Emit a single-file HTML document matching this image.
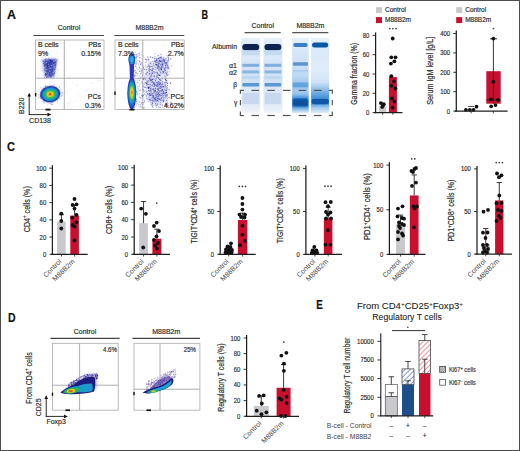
<!DOCTYPE html>
<html><head><meta charset="utf-8"><style>
html,body{margin:0;padding:0;background:#fff;overflow:hidden;width:520px;height:451px;}
svg{display:block;font-family:"Liberation Sans", sans-serif;}
text{stroke:#2a2a2a;stroke-width:0.18px;}
</style></head><body>
<svg width="520" height="451" viewBox="0 0 520 451">
<rect width="520" height="451" fill="#fff"/>
<rect x="0.5" y="0.5" width="519" height="450" fill="none" stroke="#4d4d4d" stroke-width="1"/>
<line x1="512.5" y1="1" x2="512.5" y2="450" stroke="#fbfbfb" stroke-width="1"/>
<text x="6.9" y="18.5" font-size="12" text-anchor="start" fill="#111" font-weight="bold" textLength="9" lengthAdjust="spacingAndGlyphs">A</text>
<text x="201.6" y="18.7" font-size="12" text-anchor="start" fill="#111" font-weight="bold" textLength="6.6" lengthAdjust="spacingAndGlyphs">B</text>
<text x="7.1" y="150.7" font-size="12" text-anchor="start" fill="#111" font-weight="bold" textLength="8" lengthAdjust="spacingAndGlyphs">C</text>
<text x="8" y="321.6" font-size="12" text-anchor="start" fill="#111" font-weight="bold" textLength="7.6" lengthAdjust="spacingAndGlyphs">D</text>
<text x="316.2" y="308.7" font-size="12" text-anchor="start" fill="#111" font-weight="bold" textLength="6.6" lengthAdjust="spacingAndGlyphs">E</text>
<text x="69" y="30.4" font-size="7" text-anchor="middle" fill="#333" font-weight="normal">Control</text>
<line x1="33.4" y1="35.5" x2="104" y2="35.5" stroke="#444" stroke-width="1.2"/>
<text x="149.5" y="30.4" font-size="7" text-anchor="middle" fill="#333" font-weight="normal">M88B2m</text>
<line x1="114.4" y1="35.5" x2="184.3" y2="35.5" stroke="#444" stroke-width="1.2"/>
<line x1="64.3" y1="40" x2="64.3" y2="109.5" stroke="#999" stroke-width="0.8"/>
<line x1="35.6" y1="78.2" x2="104" y2="78.2" stroke="#999" stroke-width="0.8"/>
<line x1="142.8" y1="40" x2="142.8" y2="109.5" stroke="#999" stroke-width="0.8"/>
<line x1="115" y1="78.2" x2="184.2" y2="78.2" stroke="#999" stroke-width="0.8"/>
<defs><filter id="fb" x="-50%" y="-50%" width="200%" height="200%"><feGaussianBlur stdDeviation="0.55"/></filter><filter id="fb2" x="-50%" y="-50%" width="200%" height="200%"><feGaussianBlur stdDeviation="0.9"/></filter><filter id="fb3" x="-50%" y="-50%" width="200%" height="200%"><feGaussianBlur stdDeviation="1.6"/></filter><clipPath id="cpA1"><rect x="35.6" y="40" width="68.4" height="69.5"/></clipPath><clipPath id="cpA2"><rect x="115" y="40" width="69.2" height="69.5"/></clipPath></defs><g clip-path="url(#cpA1)"><path d="M78.1 94.6h0M64.2 81.0h0M74.1 97.8h0M79.9 96.0h0M86.4 91.5h0M75.7 100.6h0" stroke="#9aa0d8" stroke-width="1.0" stroke-opacity="0.25" stroke-linecap="round" fill="none"/><path d="M67.4 93.3h0M78.6 92.7h0M98.5 80.6h0M96.0 99.2h0M99.7 102.9h0M75.3 93.5h0M82.8 88.0h0M76.2 84.9h0M70.9 89.0h0" stroke="#9aa0d8" stroke-width="0.9" stroke-opacity="0.25" stroke-linecap="round" fill="none"/><path d="M77.9 83.7h0M83.8 90.3h0M80.8 96.6h0M78.8 105.5h0M99.4 100.0h0M61.7 83.8h0M60.6 89.6h0M93.3 83.5h0M87.5 90.1h0M70.3 101.4h0M63.7 83.6h0M83.6 104.0h0M97.8 80.8h0M74.7 83.7h0M88.6 99.6h0M82.0 97.0h0" stroke="#9aa0d8" stroke-width="0.8" stroke-opacity="0.25" stroke-linecap="round" fill="none"/><path d="M84.9 101.6h0M82.5 82.8h0M98.3 102.0h0M91.1 87.0h0M93.2 90.0h0M76.5 86.5h0M72.8 106.0h0M75.2 80.3h0M77.6 101.8h0M74.0 103.3h0M91.9 105.6h0" stroke="#9aa0d8" stroke-width="0.6" stroke-opacity="0.25" stroke-linecap="round" fill="none"/><path d="M84.0 100.2h0M88.3 88.2h0M90.3 83.1h0M96.3 101.3h0M97.2 105.4h0M71.2 103.9h0M75.4 95.2h0M72.8 101.5h0M98.3 97.8h0M78.5 96.9h0" stroke="#9aa0d8" stroke-width="0.7" stroke-opacity="0.25" stroke-linecap="round" fill="none"/><path d="M86.2 90.6h0M92.9 82.9h0" stroke="#9aa0d8" stroke-width="0.8" stroke-opacity="0.5" stroke-linecap="round" fill="none"/><path d="M76.8 85.5h0M99.9 80.5h0" stroke="#9aa0d8" stroke-width="0.7" stroke-opacity="0.5" stroke-linecap="round" fill="none"/><path d="M72.4 82.3h0" stroke="#9aa0d8" stroke-width="0.6" stroke-opacity="0.5" stroke-linecap="round" fill="none"/><path d="M67.9 91.2h0M65.2 91.8h0" stroke="#9aa0d8" stroke-width="0.9" stroke-opacity="0.5" stroke-linecap="round" fill="none"/><path d="M68.5 103.4h0" stroke="#9aa0d8" stroke-width="1.0" stroke-opacity="0.5" stroke-linecap="round" fill="none"/><path d="M41.5 58.5 L58 58 L56 68 L54.5 78 L44.5 78 L42.5 68 Z" fill="#c4c8ee" filter="url(#fb3)" opacity="0.8"/><path d="M43.8 60.5 Q50 59.2 56.2 60.2 L54.6 67 L52.8 76.5 L46.2 76.5 L44.6 67 Z" fill="#5a64c4" filter="url(#fb2)" opacity="0.85"/><g filter="url(#fb2)" opacity="0.8"><ellipse cx="49.8" cy="62.5" rx="6" ry="2.8" fill="#2a32a4"/><path d="M47 64 L52.5 64 L51.5 76 L48.5 76 Z" fill="#3038a8"/></g><path d="M52.9 63.8h0M53.2 70.8h0M52.0 75.9h0M49.9 60.3h0" stroke="#1a2490" stroke-width="0.7" stroke-opacity="0.75" stroke-linecap="round" fill="none"/><path d="M50.4 67.2h0M55.0 59.0h0M54.6 72.9h0M48.5 62.3h0" stroke="#1a2490" stroke-width="1.2" stroke-opacity="0.75" stroke-linecap="round" fill="none"/><path d="M55.1 63.0h0" stroke="#8c94dc" stroke-width="1.0" stroke-opacity="0.25" stroke-linecap="round" fill="none"/><path d="M53.7 65.2h0M44.1 61.1h0" stroke="#8c94dc" stroke-width="0.8" stroke-opacity="0.5" stroke-linecap="round" fill="none"/><path d="M49.6 75.7h0M46.6 59.2h0M53.2 69.8h0M47.9 72.2h0" stroke="#5058b8" stroke-width="1.1" stroke-opacity="0.5" stroke-linecap="round" fill="none"/><path d="M51.9 69.7h0M56.8 59.9h0M50.9 63.5h0M50.6 72.5h0M47.8 60.4h0M49.2 76.3h0M46.7 72.2h0" stroke="#8c94dc" stroke-width="1.2" stroke-opacity="0.5" stroke-linecap="round" fill="none"/><path d="M53.0 64.4h0M56.2 65.2h0M54.0 68.4h0" stroke="#8c94dc" stroke-width="1.1" stroke-opacity="0.75" stroke-linecap="round" fill="none"/><path d="M52.2 63.7h0M54.9 62.9h0M46.1 67.5h0M55.2 66.4h0M46.5 59.9h0" stroke="#8c94dc" stroke-width="1.3" stroke-opacity="0.75" stroke-linecap="round" fill="none"/><path d="M48.6 68.2h0M46.1 75.1h0" stroke="#5058b8" stroke-width="0.8" stroke-opacity="0.25" stroke-linecap="round" fill="none"/><path d="M57.2 59.5h0M47.6 64.1h0M50.5 71.1h0M49.8 74.4h0" stroke="#8c94dc" stroke-width="1.0" stroke-opacity="0.5" stroke-linecap="round" fill="none"/><path d="M43.9 61.3h0" stroke="#5058b8" stroke-width="0.8" stroke-opacity="1.0" stroke-linecap="round" fill="none"/><path d="M55.7 66.7h0M45.6 63.8h0M48.7 77.3h0" stroke="#5058b8" stroke-width="1.3" stroke-opacity="0.5" stroke-linecap="round" fill="none"/><path d="M47.6 68.1h0M44.9 65.2h0" stroke="#5058b8" stroke-width="1.2" stroke-opacity="1.0" stroke-linecap="round" fill="none"/><path d="M44.8 68.7h0M47.6 60.3h0M47.6 75.8h0" stroke="#2a34a4" stroke-width="1.0" stroke-opacity="0.25" stroke-linecap="round" fill="none"/><path d="M54.1 61.4h0M49.7 73.3h0" stroke="#1e2a98" stroke-width="0.7" stroke-opacity="0.5" stroke-linecap="round" fill="none"/><path d="M53.4 60.9h0M45.6 75.4h0M50.1 76.4h0M45.3 62.6h0M47.8 69.3h0M50.7 77.2h0" stroke="#2a34a4" stroke-width="0.8" stroke-opacity="0.75" stroke-linecap="round" fill="none"/><path d="M51.8 72.3h0" stroke="#b0b6ea" stroke-width="1.2" stroke-opacity="0.25" stroke-linecap="round" fill="none"/><path d="M50.1 66.6h0M48.4 64.7h0M45.4 61.9h0" stroke="#b0b6ea" stroke-width="0.8" stroke-opacity="0.5" stroke-linecap="round" fill="none"/><path d="M46.1 68.9h0M52.7 67.4h0" stroke="#8c94dc" stroke-width="0.8" stroke-opacity="0.75" stroke-linecap="round" fill="none"/><path d="M46.6 74.9h0" stroke="#1e2a98" stroke-width="1.1" stroke-opacity="0.75" stroke-linecap="round" fill="none"/><path d="M47.3 64.8h0M54.2 65.3h0" stroke="#1e2a98" stroke-width="1.3" stroke-opacity="0.5" stroke-linecap="round" fill="none"/><path d="M48.9 66.2h0M55.4 59.9h0" stroke="#b0b6ea" stroke-width="1.3" stroke-opacity="0.75" stroke-linecap="round" fill="none"/><path d="M48.5 61.3h0" stroke="#1e2a98" stroke-width="1.1" stroke-opacity="0.25" stroke-linecap="round" fill="none"/><path d="M47.9 69.5h0M55.9 61.7h0M45.4 66.7h0" stroke="#b0b6ea" stroke-width="1.2" stroke-opacity="0.5" stroke-linecap="round" fill="none"/><path d="M52.9 68.4h0M55.1 71.1h0M45.0 66.6h0" stroke="#1e2a98" stroke-width="1.0" stroke-opacity="0.75" stroke-linecap="round" fill="none"/><path d="M49.3 73.9h0M47.2 75.3h0M56.1 60.4h0M44.9 59.4h0" stroke="#8c94dc" stroke-width="0.7" stroke-opacity="0.75" stroke-linecap="round" fill="none"/><path d="M50.5 68.5h0M48.8 65.8h0M51.8 72.4h0M53.3 77.1h0M54.1 63.6h0M54.8 60.6h0M45.8 63.9h0M51.9 69.1h0" stroke="#1e2a98" stroke-width="0.8" stroke-opacity="0.5" stroke-linecap="round" fill="none"/><path d="M44.9 62.2h0M45.6 64.8h0M53.6 74.1h0" stroke="#8c94dc" stroke-width="0.9" stroke-opacity="0.75" stroke-linecap="round" fill="none"/><path d="M56.8 60.1h0M50.8 69.0h0M50.9 60.5h0" stroke="#2a34a4" stroke-width="1.0" stroke-opacity="0.75" stroke-linecap="round" fill="none"/><path d="M48.8 66.2h0M45.3 59.9h0M51.7 72.4h0M44.8 63.4h0" stroke="#2a34a4" stroke-width="0.9" stroke-opacity="0.5" stroke-linecap="round" fill="none"/><path d="M53.1 59.2h0M45.1 76.5h0M47.5 71.2h0M52.3 68.7h0M52.4 71.5h0M51.9 73.5h0M46.8 75.2h0M53.8 73.4h0" stroke="#5058b8" stroke-width="1.2" stroke-opacity="0.5" stroke-linecap="round" fill="none"/><path d="M48.0 65.7h0" stroke="#1a2490" stroke-width="1.3" stroke-opacity="0.75" stroke-linecap="round" fill="none"/><path d="M52.5 75.5h0M47.5 75.4h0" stroke="#b0b6ea" stroke-width="1.1" stroke-opacity="0.75" stroke-linecap="round" fill="none"/><path d="M46.9 73.9h0M48.9 73.8h0M44.9 65.0h0M51.9 65.9h0M52.4 65.3h0M50.8 60.4h0M51.7 62.8h0" stroke="#1e2a98" stroke-width="1.2" stroke-opacity="0.75" stroke-linecap="round" fill="none"/><path d="M48.5 74.1h0" stroke="#b0b6ea" stroke-width="1.2" stroke-opacity="1.0" stroke-linecap="round" fill="none"/><path d="M53.3 77.3h0M46.0 59.3h0M53.4 63.6h0M56.1 59.0h0" stroke="#b0b6ea" stroke-width="0.7" stroke-opacity="0.5" stroke-linecap="round" fill="none"/><path d="M45.9 64.5h0M46.0 59.0h0M48.3 61.6h0M44.1 72.0h0M49.1 68.8h0M45.7 73.7h0" stroke="#1a2490" stroke-width="0.9" stroke-opacity="0.5" stroke-linecap="round" fill="none"/><path d="M52.0 70.9h0M53.0 73.9h0" stroke="#1a2490" stroke-width="1.2" stroke-opacity="1.0" stroke-linecap="round" fill="none"/><path d="M55.6 66.1h0M48.5 69.4h0" stroke="#5058b8" stroke-width="0.9" stroke-opacity="1.0" stroke-linecap="round" fill="none"/><path d="M50.9 68.7h0M50.9 73.5h0M50.5 68.1h0" stroke="#b0b6ea" stroke-width="0.9" stroke-opacity="0.5" stroke-linecap="round" fill="none"/><path d="M55.8 64.0h0M47.6 62.9h0M49.5 73.9h0M55.1 61.6h0" stroke="#1a2490" stroke-width="1.1" stroke-opacity="0.75" stroke-linecap="round" fill="none"/><path d="M55.0 66.2h0M44.8 73.9h0M53.7 61.4h0M49.5 71.4h0" stroke="#b0b6ea" stroke-width="1.1" stroke-opacity="0.5" stroke-linecap="round" fill="none"/><path d="M45.8 75.8h0M49.6 68.1h0M53.1 76.4h0" stroke="#b0b6ea" stroke-width="1.3" stroke-opacity="0.5" stroke-linecap="round" fill="none"/><path d="M51.8 61.1h0M45.6 62.1h0" stroke="#1a2490" stroke-width="1.0" stroke-opacity="0.5" stroke-linecap="round" fill="none"/><path d="M45.1 65.6h0M47.9 63.6h0M53.1 73.2h0" stroke="#5058b8" stroke-width="0.9" stroke-opacity="0.5" stroke-linecap="round" fill="none"/><path d="M46.6 67.4h0M46.7 68.6h0M49.1 67.2h0M47.9 74.5h0M48.8 64.8h0M43.2 65.0h0" stroke="#b0b6ea" stroke-width="1.0" stroke-opacity="0.5" stroke-linecap="round" fill="none"/><path d="M51.7 76.6h0M50.6 72.3h0M50.7 72.2h0M50.4 59.6h0M53.2 59.9h0M51.2 59.4h0M49.2 71.8h0" stroke="#2a34a4" stroke-width="0.8" stroke-opacity="0.5" stroke-linecap="round" fill="none"/><path d="M46.2 62.5h0M45.9 69.6h0" stroke="#b0b6ea" stroke-width="1.3" stroke-opacity="1.0" stroke-linecap="round" fill="none"/><path d="M43.2 59.7h0M51.5 62.8h0M53.2 74.5h0M53.2 73.8h0" stroke="#8c94dc" stroke-width="0.9" stroke-opacity="0.5" stroke-linecap="round" fill="none"/><path d="M45.7 59.7h0M49.0 74.0h0M49.2 70.1h0M50.1 71.4h0" stroke="#b0b6ea" stroke-width="0.9" stroke-opacity="0.75" stroke-linecap="round" fill="none"/><path d="M46.0 62.0h0M46.2 63.9h0" stroke="#2a34a4" stroke-width="1.3" stroke-opacity="0.75" stroke-linecap="round" fill="none"/><path d="M52.9 67.2h0M52.7 67.7h0M46.6 75.0h0" stroke="#1e2a98" stroke-width="0.9" stroke-opacity="0.5" stroke-linecap="round" fill="none"/><path d="M50.5 65.0h0" stroke="#5058b8" stroke-width="1.1" stroke-opacity="1.0" stroke-linecap="round" fill="none"/><path d="M55.5 64.7h0M48.4 67.9h0" stroke="#5058b8" stroke-width="1.1" stroke-opacity="0.75" stroke-linecap="round" fill="none"/><path d="M54.8 69.5h0" stroke="#5058b8" stroke-width="1.3" stroke-opacity="1.0" stroke-linecap="round" fill="none"/><path d="M53.8 69.0h0M46.3 63.3h0" stroke="#5058b8" stroke-width="1.0" stroke-opacity="0.5" stroke-linecap="round" fill="none"/><path d="M46.9 61.9h0M47.6 75.7h0" stroke="#5058b8" stroke-width="0.7" stroke-opacity="0.75" stroke-linecap="round" fill="none"/><path d="M50.7 60.2h0M48.3 67.6h0M51.4 75.4h0M50.3 65.6h0M48.6 68.0h0M46.8 65.5h0M56.0 62.5h0" stroke="#1a2490" stroke-width="1.2" stroke-opacity="0.5" stroke-linecap="round" fill="none"/><path d="M44.3 64.1h0" stroke="#b0b6ea" stroke-width="0.9" stroke-opacity="0.25" stroke-linecap="round" fill="none"/><path d="M53.5 61.7h0M52.3 70.5h0" stroke="#1e2a98" stroke-width="1.1" stroke-opacity="0.5" stroke-linecap="round" fill="none"/><path d="M54.9 68.0h0M49.2 73.9h0M47.1 75.9h0" stroke="#2a34a4" stroke-width="0.9" stroke-opacity="0.75" stroke-linecap="round" fill="none"/><path d="M44.3 66.0h0M46.9 71.6h0M51.3 63.3h0M45.9 70.5h0" stroke="#1a2490" stroke-width="1.0" stroke-opacity="0.75" stroke-linecap="round" fill="none"/><path d="M46.8 75.9h0M50.5 68.3h0" stroke="#b0b6ea" stroke-width="0.8" stroke-opacity="0.75" stroke-linecap="round" fill="none"/><path d="M46.6 67.9h0M47.3 71.0h0" stroke="#2a34a4" stroke-width="1.2" stroke-opacity="1.0" stroke-linecap="round" fill="none"/><path d="M52.8 71.2h0M45.2 59.4h0M51.7 75.1h0M49.7 63.4h0M49.3 73.3h0" stroke="#5058b8" stroke-width="0.8" stroke-opacity="0.75" stroke-linecap="round" fill="none"/><path d="M52.5 73.7h0M53.3 75.5h0M51.0 76.9h0M54.5 69.3h0M51.5 63.0h0" stroke="#1e2a98" stroke-width="1.2" stroke-opacity="0.5" stroke-linecap="round" fill="none"/><path d="M47.1 77.4h0M46.7 63.5h0M45.7 68.0h0M47.3 69.1h0" stroke="#1e2a98" stroke-width="1.0" stroke-opacity="0.5" stroke-linecap="round" fill="none"/><path d="M51.3 65.5h0M48.5 64.8h0M45.9 76.2h0" stroke="#b0b6ea" stroke-width="1.0" stroke-opacity="1.0" stroke-linecap="round" fill="none"/><path d="M55.5 67.7h0M54.0 66.0h0" stroke="#2a34a4" stroke-width="1.1" stroke-opacity="0.75" stroke-linecap="round" fill="none"/><path d="M50.5 62.9h0M49.0 64.7h0M45.5 73.4h0" stroke="#2a34a4" stroke-width="1.0" stroke-opacity="0.5" stroke-linecap="round" fill="none"/><path d="M48.1 59.2h0M53.0 73.6h0" stroke="#8c94dc" stroke-width="1.1" stroke-opacity="0.5" stroke-linecap="round" fill="none"/><path d="M54.0 61.1h0" stroke="#b0b6ea" stroke-width="1.2" stroke-opacity="0.75" stroke-linecap="round" fill="none"/><path d="M45.6 63.7h0M55.0 62.7h0M51.7 68.2h0" stroke="#2a34a4" stroke-width="1.1" stroke-opacity="0.5" stroke-linecap="round" fill="none"/><path d="M52.4 69.4h0M55.6 65.1h0" stroke="#1a2490" stroke-width="0.9" stroke-opacity="0.75" stroke-linecap="round" fill="none"/><path d="M51.8 60.9h0M54.0 62.2h0M47.7 63.0h0M45.4 61.8h0M46.2 71.2h0" stroke="#1e2a98" stroke-width="0.8" stroke-opacity="0.75" stroke-linecap="round" fill="none"/><path d="M42.9 60.9h0M49.6 73.8h0" stroke="#1a2490" stroke-width="1.3" stroke-opacity="0.5" stroke-linecap="round" fill="none"/><path d="M50.8 71.2h0" stroke="#2a34a4" stroke-width="0.7" stroke-opacity="0.5" stroke-linecap="round" fill="none"/><path d="M49.9 75.7h0M54.6 74.0h0M45.1 64.2h0M48.1 65.0h0M51.7 63.7h0M45.4 73.8h0M51.9 61.7h0" stroke="#1e2a98" stroke-width="0.9" stroke-opacity="0.75" stroke-linecap="round" fill="none"/><path d="M46.2 74.5h0M45.5 75.0h0" stroke="#1e2a98" stroke-width="1.3" stroke-opacity="0.75" stroke-linecap="round" fill="none"/><path d="M50.4 69.4h0" stroke="#2a34a4" stroke-width="0.9" stroke-opacity="1.0" stroke-linecap="round" fill="none"/><path d="M45.1 70.1h0M46.1 61.5h0M48.9 74.5h0" stroke="#2a34a4" stroke-width="1.2" stroke-opacity="0.5" stroke-linecap="round" fill="none"/><path d="M53.7 61.6h0" stroke="#8c94dc" stroke-width="1.2" stroke-opacity="1.0" stroke-linecap="round" fill="none"/><path d="M53.3 70.0h0M51.0 69.0h0" stroke="#5058b8" stroke-width="0.7" stroke-opacity="0.5" stroke-linecap="round" fill="none"/><path d="M56.5 61.1h0M46.6 64.0h0" stroke="#5058b8" stroke-width="0.9" stroke-opacity="0.75" stroke-linecap="round" fill="none"/><path d="M49.1 77.0h0" stroke="#8c94dc" stroke-width="0.8" stroke-opacity="1.0" stroke-linecap="round" fill="none"/><path d="M53.4 63.1h0" stroke="#1a2490" stroke-width="1.0" stroke-opacity="1.0" stroke-linecap="round" fill="none"/><path d="M45.0 68.6h0M52.0 74.2h0M48.3 62.4h0" stroke="#5058b8" stroke-width="1.2" stroke-opacity="0.75" stroke-linecap="round" fill="none"/><path d="M44.1 69.8h0M43.5 63.8h0" stroke="#2a34a4" stroke-width="0.7" stroke-opacity="1.0" stroke-linecap="round" fill="none"/><path d="M46.5 77.4h0" stroke="#1a2490" stroke-width="1.1" stroke-opacity="0.5" stroke-linecap="round" fill="none"/><path d="M44.7 70.8h0" stroke="#8c94dc" stroke-width="1.3" stroke-opacity="0.5" stroke-linecap="round" fill="none"/><path d="M44.8 77.3h0M52.6 65.5h0M46.2 60.0h0M47.7 70.4h0" stroke="#5058b8" stroke-width="1.0" stroke-opacity="0.75" stroke-linecap="round" fill="none"/><path d="M56.1 60.3h0" stroke="#b0b6ea" stroke-width="1.0" stroke-opacity="0.75" stroke-linecap="round" fill="none"/><path d="M47.9 66.6h0" stroke="#1a2490" stroke-width="0.8" stroke-opacity="1.0" stroke-linecap="round" fill="none"/><path d="M52.9 67.4h0M47.4 66.4h0M54.7 67.6h0" stroke="#8c94dc" stroke-width="0.7" stroke-opacity="0.5" stroke-linecap="round" fill="none"/><path d="M51.1 77.0h0" stroke="#8c94dc" stroke-width="1.1" stroke-opacity="1.0" stroke-linecap="round" fill="none"/><path d="M45.8 60.6h0" stroke="#8c94dc" stroke-width="0.9" stroke-opacity="1.0" stroke-linecap="round" fill="none"/><path d="M45.0 63.0h0" stroke="#b0b6ea" stroke-width="1.1" stroke-opacity="1.0" stroke-linecap="round" fill="none"/><path d="M53.8 71.6h0M50.1 62.3h0M53.4 69.1h0M47.6 76.5h0" stroke="#1a2490" stroke-width="0.8" stroke-opacity="0.5" stroke-linecap="round" fill="none"/><path d="M46.4 62.4h0" stroke="#b0b6ea" stroke-width="0.9" stroke-opacity="1.0" stroke-linecap="round" fill="none"/><path d="M44.2 63.0h0" stroke="#2a34a4" stroke-width="0.7" stroke-opacity="0.75" stroke-linecap="round" fill="none"/><path d="M51.7 63.3h0M53.3 74.4h0M54.0 76.2h0" stroke="#5058b8" stroke-width="0.8" stroke-opacity="0.5" stroke-linecap="round" fill="none"/><path d="M47.5 67.7h0" stroke="#2a34a4" stroke-width="0.9" stroke-opacity="0.25" stroke-linecap="round" fill="none"/><path d="M48.2 70.9h0" stroke="#1a2490" stroke-width="0.9" stroke-opacity="1.0" stroke-linecap="round" fill="none"/><path d="M55.0 69.7h0M53.3 65.2h0" stroke="#8c94dc" stroke-width="1.2" stroke-opacity="0.75" stroke-linecap="round" fill="none"/><path d="M48.2 75.3h0" stroke="#1e2a98" stroke-width="1.2" stroke-opacity="0.25" stroke-linecap="round" fill="none"/><path d="M55.0 68.6h0" stroke="#8c94dc" stroke-width="1.3" stroke-opacity="0.25" stroke-linecap="round" fill="none"/><path d="M51.6 68.1h0M48.8 72.8h0" stroke="#8c94dc" stroke-width="1.0" stroke-opacity="0.75" stroke-linecap="round" fill="none"/><path d="M46.9 68.4h0" stroke="#5058b8" stroke-width="1.3" stroke-opacity="0.75" stroke-linecap="round" fill="none"/><path d="M45.5 65.9h0" stroke="#1a2490" stroke-width="0.7" stroke-opacity="0.5" stroke-linecap="round" fill="none"/><path d="M47.4 66.5h0M48.9 59.3h0" stroke="#1e2a98" stroke-width="1.0" stroke-opacity="1.0" stroke-linecap="round" fill="none"/><path d="M45.7 63.8h0M54.2 70.4h0M50.7 77.2h0M48.5 57.7h0M51.4 70.9h0M54.8 75.1h0M49.2 68.5h0M52.6 62.6h0M57.7 52.9h0M33.3 70.4h0M44.9 65.4h0" stroke="#8890d8" stroke-width="0.7" stroke-opacity="0.5" stroke-linecap="round" fill="none"/><path d="M49.5 61.4h0M46.3 60.9h0M47.9 69.4h0M49.1 77.4h0M43.5 74.7h0M51.6 74.2h0M51.5 62.9h0M58.6 75.1h0M57.4 69.1h0M40.9 69.3h0" stroke="#8890d8" stroke-width="0.7" stroke-opacity="0.25" stroke-linecap="round" fill="none"/><path d="M43.1 70.2h0M43.6 64.6h0M34.8 61.0h0M43.5 68.5h0M41.2 59.7h0" stroke="#8890d8" stroke-width="1.0" stroke-opacity="0.25" stroke-linecap="round" fill="none"/><path d="M52.3 67.2h0M47.5 78.4h0M44.3 74.6h0M46.1 69.4h0M53.8 58.5h0M45.7 68.5h0M46.0 71.3h0M48.7 66.1h0M37.0 62.8h0M49.4 67.6h0M51.2 70.6h0M44.2 62.4h0M37.8 60.8h0" stroke="#8890d8" stroke-width="0.9" stroke-opacity="0.25" stroke-linecap="round" fill="none"/><path d="M42.5 75.5h0M52.2 68.0h0M51.1 65.9h0M55.6 66.4h0M53.6 65.7h0M52.9 78.4h0M46.2 63.2h0M59.1 70.4h0" stroke="#8890d8" stroke-width="0.8" stroke-opacity="0.25" stroke-linecap="round" fill="none"/><path d="M46.4 72.7h0M42.1 67.0h0M41.8 52.2h0M54.8 72.6h0M45.2 56.7h0M52.7 72.6h0M43.1 67.4h0M42.4 70.7h0M52.8 71.0h0M57.4 76.2h0M53.2 66.6h0" stroke="#8890d8" stroke-width="0.8" stroke-opacity="0.5" stroke-linecap="round" fill="none"/><path d="M43.9 78.9h0M56.0 67.7h0M48.9 68.2h0M56.4 63.4h0M46.7 75.1h0M48.2 61.3h0M47.8 74.9h0" stroke="#8890d8" stroke-width="0.9" stroke-opacity="0.5" stroke-linecap="round" fill="none"/><path d="M48.3 64.5h0M41.4 69.3h0M47.7 75.9h0M50.1 75.2h0M54.1 75.2h0M52.5 79.5h0M40.0 66.8h0M45.7 66.0h0" stroke="#8890d8" stroke-width="0.6" stroke-opacity="0.25" stroke-linecap="round" fill="none"/><path d="M58.8 75.1h0M44.4 74.7h0M56.2 73.4h0" stroke="#8890d8" stroke-width="0.6" stroke-opacity="0.5" stroke-linecap="round" fill="none"/><path d="M40.8 61.2h0M47.9 61.8h0M48.0 71.1h0M57.7 69.7h0" stroke="#8890d8" stroke-width="1.0" stroke-opacity="0.5" stroke-linecap="round" fill="none"/><path d="M40.0 97.9h0M38.7 95.8h0M61.8 90.7h0M41.0 87.4h0" stroke="#c8a0d8" stroke-width="0.6" stroke-opacity="0.5" stroke-linecap="round" fill="none"/><path d="M60.9 89.7h0M41.7 90.0h0" stroke="#8a90e0" stroke-width="0.6" stroke-opacity="0.25" stroke-linecap="round" fill="none"/><path d="M59.2 98.4h0M57.9 91.4h0M58.1 92.6h0" stroke="#4a50c8" stroke-width="0.8" stroke-opacity="0.75" stroke-linecap="round" fill="none"/><path d="M56.4 100.3h0M59.9 93.8h0M49.6 103.4h0M60.6 94.8h0M58.9 93.2h0" stroke="#8a90e0" stroke-width="0.7" stroke-opacity="0.5" stroke-linecap="round" fill="none"/><path d="M62.3 92.7h0M59.3 87.1h0" stroke="#4a50c8" stroke-width="1.0" stroke-opacity="0.75" stroke-linecap="round" fill="none"/><path d="M41.2 88.1h0M39.9 96.1h0M44.3 103.3h0M62.1 93.5h0M47.8 87.7h0" stroke="#b0a0e0" stroke-width="1.0" stroke-opacity="0.5" stroke-linecap="round" fill="none"/><path d="M57.4 99.3h0M43.5 88.7h0M40.6 98.2h0M40.1 96.0h0M43.4 88.9h0" stroke="#c8a0d8" stroke-width="0.7" stroke-opacity="0.75" stroke-linecap="round" fill="none"/><path d="M61.7 96.3h0M51.3 104.2h0M54.3 84.7h0" stroke="#4a50c8" stroke-width="0.9" stroke-opacity="0.5" stroke-linecap="round" fill="none"/><path d="M58.5 94.3h0M51.5 104.6h0" stroke="#8a90e0" stroke-width="0.9" stroke-opacity="0.75" stroke-linecap="round" fill="none"/><path d="M42.2 98.7h0M59.7 91.9h0" stroke="#8a90e0" stroke-width="0.7" stroke-opacity="0.25" stroke-linecap="round" fill="none"/><path d="M49.4 103.3h0M44.1 102.9h0M49.6 102.2h0M55.3 87.2h0M41.1 95.9h0M46.6 86.2h0" stroke="#b0a0e0" stroke-width="0.8" stroke-opacity="0.5" stroke-linecap="round" fill="none"/><path d="M41.5 96.5h0M51.0 85.5h0" stroke="#8a90e0" stroke-width="1.0" stroke-opacity="0.25" stroke-linecap="round" fill="none"/><path d="M52.6 102.6h0M38.7 94.4h0M43.3 101.8h0" stroke="#8a90e0" stroke-width="0.7" stroke-opacity="0.75" stroke-linecap="round" fill="none"/><path d="M51.0 103.6h0M51.0 87.3h0M40.2 98.0h0M38.2 91.4h0M45.5 87.5h0M40.6 87.6h0M58.2 99.9h0" stroke="#b0a0e0" stroke-width="0.7" stroke-opacity="0.5" stroke-linecap="round" fill="none"/><path d="M42.9 91.2h0M62.4 94.5h0" stroke="#b0a0e0" stroke-width="0.7" stroke-opacity="0.25" stroke-linecap="round" fill="none"/><path d="M49.6 86.7h0M41.6 95.9h0M43.2 87.2h0M60.1 90.5h0" stroke="#4a50c8" stroke-width="0.6" stroke-opacity="0.5" stroke-linecap="round" fill="none"/><path d="M60.3 98.9h0M61.4 92.0h0M47.3 104.4h0M57.7 97.3h0M48.9 85.2h0M47.6 86.1h0M50.0 85.3h0M40.1 92.8h0M57.4 102.8h0" stroke="#c8a0d8" stroke-width="0.7" stroke-opacity="0.5" stroke-linecap="round" fill="none"/><path d="M42.1 91.7h0M57.7 100.1h0" stroke="#4a50c8" stroke-width="0.9" stroke-opacity="0.25" stroke-linecap="round" fill="none"/><path d="M44.1 102.7h0M38.1 94.5h0M41.1 97.6h0M49.6 86.5h0M42.0 95.2h0M48.2 102.0h0M58.8 94.9h0M52.3 102.6h0" stroke="#4a50c8" stroke-width="0.8" stroke-opacity="0.5" stroke-linecap="round" fill="none"/><path d="M59.1 87.0h0M57.3 101.7h0M48.2 87.6h0M61.4 95.0h0" stroke="#8a90e0" stroke-width="1.0" stroke-opacity="0.5" stroke-linecap="round" fill="none"/><path d="M47.5 86.9h0M49.7 86.4h0" stroke="#c8a0d8" stroke-width="0.9" stroke-opacity="0.75" stroke-linecap="round" fill="none"/><path d="M42.6 101.4h0" stroke="#4a50c8" stroke-width="1.0" stroke-opacity="0.25" stroke-linecap="round" fill="none"/><path d="M61.4 93.3h0" stroke="#b0a0e0" stroke-width="0.9" stroke-opacity="0.25" stroke-linecap="round" fill="none"/><path d="M53.7 100.9h0M55.3 101.1h0M60.7 91.8h0M50.5 103.3h0M56.9 98.3h0M54.2 101.0h0" stroke="#c8a0d8" stroke-width="0.8" stroke-opacity="0.5" stroke-linecap="round" fill="none"/><path d="M62.3 95.4h0" stroke="#8a90e0" stroke-width="1.0" stroke-opacity="0.75" stroke-linecap="round" fill="none"/><path d="M42.8 102.9h0M50.0 85.8h0" stroke="#8a90e0" stroke-width="0.8" stroke-opacity="0.25" stroke-linecap="round" fill="none"/><path d="M41.3 92.2h0M45.7 86.0h0M58.0 97.1h0M50.6 87.3h0" stroke="#8a90e0" stroke-width="0.6" stroke-opacity="0.5" stroke-linecap="round" fill="none"/><path d="M51.2 103.3h0" stroke="#b0a0e0" stroke-width="0.7" stroke-opacity="0.75" stroke-linecap="round" fill="none"/><path d="M45.1 87.2h0M42.6 90.6h0" stroke="#c8a0d8" stroke-width="0.8" stroke-opacity="0.75" stroke-linecap="round" fill="none"/><path d="M59.1 97.1h0M57.9 97.2h0" stroke="#8a90e0" stroke-width="0.9" stroke-opacity="0.25" stroke-linecap="round" fill="none"/><path d="M59.3 92.8h0" stroke="#4a50c8" stroke-width="0.8" stroke-opacity="0.25" stroke-linecap="round" fill="none"/><path d="M40.8 98.3h0M40.5 96.7h0M47.2 86.6h0M59.4 96.5h0" stroke="#c8a0d8" stroke-width="1.0" stroke-opacity="0.5" stroke-linecap="round" fill="none"/><path d="M55.7 100.8h0M45.6 85.3h0M45.4 87.5h0" stroke="#8a90e0" stroke-width="0.9" stroke-opacity="0.5" stroke-linecap="round" fill="none"/><path d="M43.5 86.8h0M40.7 92.3h0M40.0 96.0h0M46.1 85.3h0" stroke="#8a90e0" stroke-width="0.8" stroke-opacity="0.5" stroke-linecap="round" fill="none"/><path d="M61.0 93.4h0M46.5 101.5h0M39.1 89.9h0M43.5 99.7h0M42.5 92.0h0" stroke="#4a50c8" stroke-width="0.7" stroke-opacity="0.5" stroke-linecap="round" fill="none"/><path d="M39.1 89.9h0M47.2 101.5h0M41.2 91.1h0" stroke="#c8a0d8" stroke-width="0.9" stroke-opacity="0.5" stroke-linecap="round" fill="none"/><path d="M51.5 103.4h0" stroke="#c8a0d8" stroke-width="0.6" stroke-opacity="0.25" stroke-linecap="round" fill="none"/><path d="M52.8 104.4h0M45.7 86.5h0" stroke="#4a50c8" stroke-width="0.9" stroke-opacity="0.75" stroke-linecap="round" fill="none"/><path d="M57.4 100.2h0" stroke="#b0a0e0" stroke-width="0.9" stroke-opacity="0.5" stroke-linecap="round" fill="none"/><path d="M52.7 85.5h0M53.4 101.6h0M52.4 100.9h0M38.4 97.7h0M50.9 86.2h0" stroke="#4a50c8" stroke-width="1.0" stroke-opacity="0.5" stroke-linecap="round" fill="none"/><path d="M47.5 86.1h0M48.8 103.7h0" stroke="#c8a0d8" stroke-width="0.8" stroke-opacity="0.25" stroke-linecap="round" fill="none"/><path d="M49.4 84.2h0M46.2 102.7h0" stroke="#4a50c8" stroke-width="0.7" stroke-opacity="0.25" stroke-linecap="round" fill="none"/><path d="M42.0 97.3h0" stroke="#4a50c8" stroke-width="0.6" stroke-opacity="0.75" stroke-linecap="round" fill="none"/><path d="M54.0 86.2h0" stroke="#b0a0e0" stroke-width="0.6" stroke-opacity="0.5" stroke-linecap="round" fill="none"/><path d="M51.4 84.9h0" stroke="#b0a0e0" stroke-width="1.0" stroke-opacity="0.25" stroke-linecap="round" fill="none"/><path d="M59.2 96.2h0" stroke="#4a50c8" stroke-width="0.7" stroke-opacity="0.75" stroke-linecap="round" fill="none"/><path d="M53.0 85.4h0" stroke="#b0a0e0" stroke-width="0.9" stroke-opacity="0.75" stroke-linecap="round" fill="none"/><g transform="rotate(-10 50.2 94.2)" filter="url(#fb)"><ellipse cx="50.2" cy="94.2" rx="10.2" ry="8.3" fill="#1e2c9c"/><ellipse cx="50.2" cy="94.2" rx="9.0" ry="7.3" fill="#1a58c8"/><ellipse cx="50.2" cy="94.2" rx="7.8" ry="6.3" fill="#12a0d0"/><ellipse cx="50.2" cy="94.2" rx="6.4" ry="5.2" fill="#18b098"/><ellipse cx="50.2" cy="94.2" rx="5.3" ry="4.3" fill="#34b450"/><ellipse cx="50.2" cy="94.2" rx="3.8" ry="3.1" fill="#90d030"/><ellipse cx="50.2" cy="94.2" rx="2.9" ry="2.3" fill="#e8e020"/><ellipse cx="50.2" cy="94.2" rx="2.0" ry="1.6" fill="#f08020"/><ellipse cx="50.2" cy="94.2" rx="1.1" ry="0.9" fill="#e03818"/></g></g><g clip-path="url(#cpA2)"><g filter="url(#fb3)" opacity="0.75"><ellipse cx="161" cy="66" rx="8" ry="10" fill="#c4c8ee"/><ellipse cx="157" cy="92" rx="11" ry="13" fill="#c4c8ee"/><ellipse cx="152" cy="78" rx="8" ry="16" fill="#d4d7f2"/></g><path d="M168.0 89.1h0M160.3 102.3h0M167.2 68.9h0M159.2 69.5h0M150.0 65.0h0M159.4 70.8h0M149.5 79.5h0M146.5 77.1h0M152.7 73.1h0M158.2 83.0h0M165.4 94.3h0M161.1 69.3h0M153.7 95.2h0" stroke="#8a90d8" stroke-width="1.0" stroke-opacity="0.5" stroke-linecap="round" fill="none"/><path d="M169.1 90.1h0M152.7 79.0h0M155.7 91.7h0M155.4 64.5h0M152.3 85.7h0M153.0 92.9h0M164.8 63.6h0M155.7 64.2h0" stroke="#2e34aa" stroke-width="0.8" stroke-opacity="0.5" stroke-linecap="round" fill="none"/><path d="M169.6 89.6h0M144.0 91.6h0M160.9 104.3h0M144.7 107.8h0M162.5 78.7h0M157.1 105.4h0M160.1 82.5h0M159.3 82.2h0M151.9 84.9h0M162.3 107.1h0M152.4 68.9h0M156.0 106.0h0" stroke="#8a90d8" stroke-width="1.0" stroke-opacity="0.75" stroke-linecap="round" fill="none"/><path d="M153.6 92.5h0M159.5 88.5h0M166.7 62.8h0M152.9 69.1h0M166.7 100.3h0M161.4 63.0h0" stroke="#4a50b8" stroke-width="0.7" stroke-opacity="0.5" stroke-linecap="round" fill="none"/><path d="M146.0 66.9h0M148.1 75.4h0M157.5 75.5h0M156.9 100.2h0M156.3 77.2h0M148.4 58.1h0M149.5 93.5h0M168.1 97.7h0M154.0 90.5h0M161.1 90.6h0M152.2 107.5h0M149.0 60.1h0" stroke="#7078cc" stroke-width="0.9" stroke-opacity="0.75" stroke-linecap="round" fill="none"/><path d="M157.0 95.1h0M155.4 84.3h0M161.3 89.7h0M163.5 97.1h0M166.0 63.0h0M160.5 87.5h0M154.1 79.7h0M163.9 73.2h0M165.9 83.1h0M161.2 86.2h0M164.6 79.4h0" stroke="#8a90d8" stroke-width="0.8" stroke-opacity="0.5" stroke-linecap="round" fill="none"/><path d="M146.3 74.1h0M149.4 99.9h0M161.4 93.5h0M160.9 94.9h0M157.8 74.0h0M158.6 65.8h0M146.8 91.4h0M162.8 60.2h0M143.8 78.9h0M156.9 78.2h0M162.8 72.2h0M153.8 68.9h0M143.9 91.8h0M155.0 99.0h0M159.8 107.3h0M144.6 102.1h0" stroke="#242aa0" stroke-width="0.9" stroke-opacity="0.5" stroke-linecap="round" fill="none"/><path d="M164.6 92.7h0M145.2 87.2h0M167.0 65.0h0M150.7 57.4h0M162.7 61.1h0M153.0 82.7h0M151.5 66.6h0" stroke="#242aa0" stroke-width="1.1" stroke-opacity="0.5" stroke-linecap="round" fill="none"/><path d="M150.8 63.5h0M162.5 83.4h0M158.4 88.2h0M161.8 58.2h0M158.7 85.6h0M143.5 86.1h0M155.3 97.8h0M144.1 83.9h0M157.5 84.0h0" stroke="#242aa0" stroke-width="0.8" stroke-opacity="0.75" stroke-linecap="round" fill="none"/><path d="M168.1 103.9h0M146.3 95.9h0M149.5 73.9h0M157.8 66.1h0M159.6 91.3h0M148.5 94.4h0M166.8 67.9h0M151.2 90.9h0M165.9 80.8h0" stroke="#2e34aa" stroke-width="1.0" stroke-opacity="0.5" stroke-linecap="round" fill="none"/><path d="M151.0 94.3h0M152.4 79.6h0M159.4 94.7h0" stroke="#242aa0" stroke-width="1.0" stroke-opacity="1.0" stroke-linecap="round" fill="none"/><path d="M160.7 100.6h0M151.0 79.9h0M163.3 59.5h0M160.6 61.8h0M160.8 90.9h0M157.2 104.2h0M149.8 77.9h0M144.6 100.9h0M165.6 65.1h0" stroke="#1c1c90" stroke-width="0.8" stroke-opacity="0.75" stroke-linecap="round" fill="none"/><path d="M164.0 100.6h0M150.4 86.9h0M161.5 69.4h0M152.5 103.4h0" stroke="#7078cc" stroke-width="1.0" stroke-opacity="1.0" stroke-linecap="round" fill="none"/><path d="M168.3 68.3h0M148.3 97.3h0M156.8 102.0h0M150.9 61.8h0M158.0 88.4h0M158.3 106.5h0M149.6 99.2h0M168.3 67.0h0M155.6 62.1h0M158.4 77.5h0M157.4 92.8h0M143.7 55.9h0M161.1 81.6h0" stroke="#7078cc" stroke-width="0.9" stroke-opacity="0.5" stroke-linecap="round" fill="none"/><path d="M161.9 100.4h0M160.7 93.5h0M148.3 101.3h0M163.2 60.2h0M154.9 65.5h0M167.7 64.0h0M155.7 95.4h0" stroke="#7078cc" stroke-width="0.8" stroke-opacity="0.75" stroke-linecap="round" fill="none"/><path d="M148.0 99.7h0M158.1 83.7h0M157.4 98.9h0M153.2 105.4h0M155.6 88.9h0M165.9 89.9h0M167.5 72.1h0M166.8 94.6h0M168.2 67.4h0M144.8 77.3h0M162.6 86.3h0M144.7 94.1h0" stroke="#1c1c90" stroke-width="1.0" stroke-opacity="0.5" stroke-linecap="round" fill="none"/><path d="M161.1 78.8h0M145.3 94.2h0M160.7 65.3h0" stroke="#242aa0" stroke-width="0.7" stroke-opacity="0.5" stroke-linecap="round" fill="none"/><path d="M165.7 62.8h0M158.3 63.7h0M165.2 59.8h0M156.2 107.3h0M156.6 99.1h0M158.5 96.9h0M150.1 90.2h0M153.1 68.3h0M157.8 67.8h0M160.9 86.0h0M154.9 101.2h0M167.6 83.3h0" stroke="#2e34aa" stroke-width="0.9" stroke-opacity="0.75" stroke-linecap="round" fill="none"/><path d="M151.7 74.9h0M165.7 63.1h0M149.1 84.4h0M158.2 88.3h0M161.9 83.7h0M152.7 88.9h0M157.5 60.3h0M156.5 65.4h0M160.5 84.8h0" stroke="#8a90d8" stroke-width="1.1" stroke-opacity="0.5" stroke-linecap="round" fill="none"/><path d="M166.4 90.6h0M168.4 57.6h0M144.4 69.2h0M161.5 95.5h0M164.2 108.0h0M164.5 61.8h0M165.6 96.0h0M150.0 73.2h0M156.2 72.4h0M163.5 101.8h0M167.1 95.4h0" stroke="#1c1c90" stroke-width="1.1" stroke-opacity="0.5" stroke-linecap="round" fill="none"/><path d="M147.1 72.2h0M156.5 60.3h0M148.1 59.6h0M162.2 64.2h0M155.0 90.6h0M152.1 70.8h0M149.5 93.8h0M157.7 89.5h0M170.6 83.3h0M146.0 73.9h0M152.4 97.1h0M154.8 84.2h0M154.5 85.0h0" stroke="#1c1c90" stroke-width="1.1" stroke-opacity="0.75" stroke-linecap="round" fill="none"/><path d="M153.3 88.7h0M156.9 58.9h0M153.8 98.5h0M159.8 82.8h0M168.2 60.3h0M160.4 72.9h0M158.9 69.3h0M161.5 97.9h0M152.7 57.7h0" stroke="#242aa0" stroke-width="0.9" stroke-opacity="0.75" stroke-linecap="round" fill="none"/><path d="M150.8 95.6h0M166.5 97.3h0M162.0 66.2h0M158.1 81.7h0M160.2 95.3h0" stroke="#4a50b8" stroke-width="0.9" stroke-opacity="0.25" stroke-linecap="round" fill="none"/><path d="M152.9 73.1h0M167.9 105.7h0M150.1 95.5h0M160.1 61.1h0M164.9 75.9h0M149.9 66.7h0M152.1 104.0h0M156.1 94.8h0" stroke="#1c1c90" stroke-width="1.2" stroke-opacity="0.75" stroke-linecap="round" fill="none"/><path d="M155.7 80.8h0M160.5 83.5h0M157.0 105.1h0" stroke="#4a50b8" stroke-width="0.9" stroke-opacity="1.0" stroke-linecap="round" fill="none"/><path d="M158.9 61.5h0M147.7 83.1h0" stroke="#2e34aa" stroke-width="0.8" stroke-opacity="1.0" stroke-linecap="round" fill="none"/><path d="M165.1 59.0h0M165.5 72.7h0M165.4 90.5h0M162.1 66.5h0M151.3 80.8h0M143.4 67.4h0M157.4 100.6h0M149.0 68.3h0M157.6 84.5h0M169.7 97.5h0" stroke="#242aa0" stroke-width="1.0" stroke-opacity="0.5" stroke-linecap="round" fill="none"/><path d="M166.5 103.1h0M150.4 90.0h0M166.4 67.6h0M151.3 91.3h0M153.5 84.6h0M151.3 105.5h0M157.0 62.0h0M160.2 71.3h0M164.8 63.2h0M155.1 58.5h0M165.6 86.1h0M163.3 99.1h0" stroke="#4a50b8" stroke-width="0.9" stroke-opacity="0.5" stroke-linecap="round" fill="none"/><path d="M148.5 88.4h0M162.9 93.8h0M153.0 93.9h0" stroke="#7078cc" stroke-width="1.2" stroke-opacity="1.0" stroke-linecap="round" fill="none"/><path d="M158.3 68.6h0M160.1 60.1h0M157.5 86.3h0M153.7 57.8h0M165.1 95.2h0M161.5 68.8h0M166.1 96.3h0M170.4 82.7h0M150.9 75.3h0M152.5 68.7h0M154.7 99.3h0" stroke="#7078cc" stroke-width="1.0" stroke-opacity="0.75" stroke-linecap="round" fill="none"/><path d="M164.1 94.8h0M160.1 98.2h0M158.0 61.9h0M152.9 86.0h0M164.2 60.5h0M167.7 75.3h0M157.6 89.9h0M152.3 86.1h0M161.6 67.0h0M156.2 84.3h0M159.2 63.3h0M159.1 74.4h0M164.9 61.9h0M157.3 86.6h0M157.9 89.1h0M158.4 60.9h0" stroke="#8a90d8" stroke-width="0.9" stroke-opacity="0.75" stroke-linecap="round" fill="none"/><path d="M167.0 79.7h0M155.8 85.1h0M147.9 78.4h0M165.3 87.5h0M160.1 102.9h0" stroke="#7078cc" stroke-width="0.7" stroke-opacity="0.5" stroke-linecap="round" fill="none"/><path d="M165.5 96.0h0M162.2 63.6h0M158.8 89.8h0M160.9 68.9h0M159.6 84.2h0M157.5 72.4h0" stroke="#4a50b8" stroke-width="0.8" stroke-opacity="1.0" stroke-linecap="round" fill="none"/><path d="M153.7 88.3h0M162.2 76.9h0M156.4 65.3h0M164.3 62.5h0M145.5 65.0h0" stroke="#242aa0" stroke-width="0.9" stroke-opacity="0.25" stroke-linecap="round" fill="none"/><path d="M151.4 79.4h0M157.7 62.5h0M155.0 61.7h0M147.7 66.6h0M154.3 84.2h0M160.9 80.6h0M152.4 102.9h0M165.5 84.8h0M152.1 82.4h0" stroke="#4a50b8" stroke-width="1.0" stroke-opacity="0.75" stroke-linecap="round" fill="none"/><path d="M149.5 78.7h0M149.6 67.7h0M152.8 61.3h0M162.3 65.0h0M153.3 71.5h0M164.1 97.9h0M158.4 96.2h0M142.6 94.9h0" stroke="#4a50b8" stroke-width="0.9" stroke-opacity="0.75" stroke-linecap="round" fill="none"/><path d="M146.2 97.4h0M157.9 99.0h0M170.2 82.8h0M162.8 77.7h0M147.9 72.9h0" stroke="#1c1c90" stroke-width="1.0" stroke-opacity="0.25" stroke-linecap="round" fill="none"/><path d="M147.7 86.9h0M163.4 95.7h0M148.9 61.1h0M167.3 83.3h0M159.0 96.8h0M163.5 58.0h0M165.4 92.6h0M155.6 90.8h0M164.3 89.6h0M167.3 67.7h0M155.2 69.5h0M158.8 81.5h0M146.7 85.0h0M156.7 84.1h0M159.7 61.6h0M165.8 101.8h0M157.7 84.8h0" stroke="#2e34aa" stroke-width="0.9" stroke-opacity="0.5" stroke-linecap="round" fill="none"/><path d="M156.2 95.8h0M159.4 66.6h0M158.6 65.8h0M166.6 104.8h0M162.3 97.0h0M157.6 100.5h0M166.6 105.9h0M161.0 72.6h0M156.6 64.7h0M152.4 100.6h0" stroke="#4a50b8" stroke-width="0.8" stroke-opacity="0.75" stroke-linecap="round" fill="none"/><path d="M151.5 77.1h0M156.2 94.1h0M155.9 95.7h0M164.1 97.6h0M166.9 87.8h0M163.7 63.8h0M162.7 95.9h0M165.5 104.1h0M156.7 67.6h0M162.1 99.5h0M161.8 93.9h0M159.7 92.0h0M149.3 80.3h0" stroke="#7078cc" stroke-width="1.0" stroke-opacity="0.5" stroke-linecap="round" fill="none"/><path d="M142.5 83.1h0M164.1 78.1h0M156.4 76.5h0M166.1 92.5h0" stroke="#2e34aa" stroke-width="1.1" stroke-opacity="0.25" stroke-linecap="round" fill="none"/><path d="M148.4 78.4h0M167.0 88.6h0M151.6 82.8h0" stroke="#242aa0" stroke-width="1.0" stroke-opacity="0.25" stroke-linecap="round" fill="none"/><path d="M159.8 84.2h0M161.0 61.3h0M158.9 92.8h0M153.8 97.1h0M146.5 83.4h0M145.2 79.0h0" stroke="#242aa0" stroke-width="0.9" stroke-opacity="1.0" stroke-linecap="round" fill="none"/><path d="M166.7 73.9h0M160.7 57.2h0M145.9 82.7h0" stroke="#242aa0" stroke-width="1.1" stroke-opacity="1.0" stroke-linecap="round" fill="none"/><path d="M162.9 101.0h0M156.2 60.7h0M162.1 61.8h0M157.2 73.7h0M157.2 68.1h0M160.9 95.4h0M163.8 93.5h0M148.5 65.9h0M161.9 84.6h0M154.8 73.0h0" stroke="#2e34aa" stroke-width="1.0" stroke-opacity="0.75" stroke-linecap="round" fill="none"/><path d="M161.9 65.3h0M151.1 98.3h0M166.1 76.5h0M161.5 87.4h0M147.6 72.2h0M154.5 88.8h0" stroke="#1c1c90" stroke-width="0.7" stroke-opacity="0.5" stroke-linecap="round" fill="none"/><path d="M166.8 74.0h0M164.3 94.9h0M160.5 79.6h0M149.8 56.8h0M166.8 72.6h0" stroke="#242aa0" stroke-width="0.8" stroke-opacity="0.25" stroke-linecap="round" fill="none"/><path d="M145.1 99.3h0M159.4 67.1h0M151.9 64.5h0M156.6 69.0h0M161.9 88.0h0M156.7 59.5h0" stroke="#1c1c90" stroke-width="0.9" stroke-opacity="0.25" stroke-linecap="round" fill="none"/><path d="M165.5 67.4h0M168.0 56.8h0M164.3 69.2h0M167.7 102.1h0M158.3 83.0h0M155.4 80.6h0M151.0 91.9h0M170.6 58.8h0" stroke="#7078cc" stroke-width="1.2" stroke-opacity="0.75" stroke-linecap="round" fill="none"/><path d="M154.6 75.7h0M156.8 75.9h0M145.0 87.5h0M155.2 97.7h0M149.8 95.3h0M146.4 61.9h0M165.0 70.5h0M150.4 76.7h0M166.6 58.2h0M149.3 65.5h0M164.2 71.3h0" stroke="#4a50b8" stroke-width="1.0" stroke-opacity="0.5" stroke-linecap="round" fill="none"/><path d="M158.3 75.0h0M155.3 57.6h0M161.0 91.7h0" stroke="#8a90d8" stroke-width="0.8" stroke-opacity="0.25" stroke-linecap="round" fill="none"/><path d="M143.4 79.4h0M155.3 97.4h0M155.2 90.6h0M157.6 94.2h0M150.8 102.4h0M152.1 81.3h0M165.3 68.8h0M160.0 79.3h0M151.3 89.0h0M154.1 83.7h0M171.3 65.9h0M155.3 93.5h0M144.6 69.3h0M168.0 74.5h0M146.6 98.5h0M155.8 99.1h0" stroke="#4a50b8" stroke-width="1.1" stroke-opacity="0.5" stroke-linecap="round" fill="none"/><path d="M157.1 96.6h0M144.2 87.2h0M155.5 82.7h0M165.5 103.6h0M150.6 84.0h0M166.4 80.3h0M164.7 89.9h0" stroke="#8a90d8" stroke-width="1.1" stroke-opacity="0.75" stroke-linecap="round" fill="none"/><path d="M163.8 69.9h0M145.6 58.8h0M149.0 87.3h0M171.1 91.9h0M157.8 104.2h0" stroke="#8a90d8" stroke-width="0.7" stroke-opacity="0.5" stroke-linecap="round" fill="none"/><path d="M153.5 91.1h0M166.6 94.8h0M160.7 88.2h0M153.2 101.3h0M164.4 60.7h0" stroke="#4a50b8" stroke-width="1.2" stroke-opacity="0.5" stroke-linecap="round" fill="none"/><path d="M157.7 60.3h0M153.0 82.4h0M159.2 85.2h0M158.4 57.7h0M160.8 65.0h0M146.2 96.0h0" stroke="#7078cc" stroke-width="0.7" stroke-opacity="0.75" stroke-linecap="round" fill="none"/><path d="M161.2 86.3h0M163.0 71.4h0M152.2 93.7h0M150.0 78.5h0M166.9 62.4h0M152.3 73.6h0" stroke="#1c1c90" stroke-width="1.2" stroke-opacity="0.5" stroke-linecap="round" fill="none"/><path d="M145.4 59.5h0M142.5 96.6h0M163.4 91.6h0M154.8 76.5h0M166.1 82.4h0M153.7 86.3h0M160.7 88.5h0M148.0 84.5h0M146.0 87.8h0M156.8 96.8h0M157.0 82.3h0M165.4 62.9h0M155.8 64.6h0" stroke="#4a50b8" stroke-width="1.1" stroke-opacity="0.75" stroke-linecap="round" fill="none"/><path d="M160.0 91.5h0M161.2 97.0h0M163.9 61.6h0M152.8 79.5h0M161.2 98.3h0M160.2 84.1h0M163.4 101.1h0M156.9 82.5h0M142.6 86.9h0" stroke="#242aa0" stroke-width="0.8" stroke-opacity="0.5" stroke-linecap="round" fill="none"/><path d="M147.5 93.9h0M152.5 100.3h0M148.5 64.3h0M167.2 87.6h0M151.8 85.5h0M163.9 61.3h0" stroke="#4a50b8" stroke-width="0.7" stroke-opacity="0.75" stroke-linecap="round" fill="none"/><path d="M166.8 55.4h0M156.5 64.0h0M147.9 81.7h0M155.9 64.1h0M148.0 98.5h0M155.3 79.1h0M159.2 61.1h0M167.0 74.0h0M157.1 92.8h0M147.8 93.4h0M143.4 89.3h0M152.5 73.3h0M165.8 97.9h0" stroke="#7078cc" stroke-width="1.1" stroke-opacity="0.5" stroke-linecap="round" fill="none"/><path d="M161.8 91.2h0M154.8 84.5h0M168.2 75.0h0" stroke="#4a50b8" stroke-width="1.0" stroke-opacity="0.25" stroke-linecap="round" fill="none"/><path d="M166.3 92.4h0M150.0 99.8h0M159.8 99.2h0M163.1 86.8h0" stroke="#242aa0" stroke-width="1.2" stroke-opacity="1.0" stroke-linecap="round" fill="none"/><path d="M159.6 60.4h0M165.2 105.0h0M166.9 100.3h0M165.7 65.5h0M165.9 79.9h0M154.8 92.8h0M162.3 105.1h0M150.2 63.1h0M154.5 98.5h0M154.4 82.8h0M146.3 69.5h0M153.8 79.0h0" stroke="#242aa0" stroke-width="1.0" stroke-opacity="0.75" stroke-linecap="round" fill="none"/><path d="M163.7 86.8h0M156.0 94.1h0" stroke="#8a90d8" stroke-width="0.9" stroke-opacity="0.25" stroke-linecap="round" fill="none"/><path d="M151.9 80.0h0M163.1 66.4h0M163.0 64.1h0M166.2 59.0h0" stroke="#7078cc" stroke-width="0.8" stroke-opacity="0.25" stroke-linecap="round" fill="none"/><path d="M150.5 91.0h0M144.2 86.7h0M156.9 62.4h0M155.5 90.2h0M163.8 93.5h0M165.5 70.3h0M157.7 91.4h0M157.2 64.5h0M161.2 57.2h0M160.7 69.8h0M148.5 80.5h0M156.3 78.8h0M149.9 93.9h0M158.3 66.7h0M159.6 79.5h0M149.4 74.0h0" stroke="#1c1c90" stroke-width="0.9" stroke-opacity="0.5" stroke-linecap="round" fill="none"/><path d="M152.6 66.6h0M166.0 63.1h0M167.0 63.0h0M151.5 73.0h0M151.0 104.3h0M151.4 88.0h0M152.3 84.3h0M150.2 84.9h0M157.2 93.0h0" stroke="#7078cc" stroke-width="1.1" stroke-opacity="0.75" stroke-linecap="round" fill="none"/><path d="M150.3 88.7h0M165.4 104.0h0M153.4 83.6h0M143.1 78.8h0" stroke="#2e34aa" stroke-width="0.9" stroke-opacity="1.0" stroke-linecap="round" fill="none"/><path d="M164.9 73.2h0M162.2 93.0h0M151.5 95.3h0" stroke="#7078cc" stroke-width="0.7" stroke-opacity="1.0" stroke-linecap="round" fill="none"/><path d="M158.4 101.4h0M160.4 83.2h0M162.3 62.8h0M158.8 81.8h0M168.3 65.9h0M166.2 86.6h0M163.1 84.4h0M161.6 68.3h0M159.5 87.4h0M142.9 96.1h0M153.6 89.9h0M158.9 84.8h0M158.9 63.8h0M153.5 90.4h0M163.9 67.7h0M157.8 85.6h0M152.6 57.4h0M159.0 88.3h0" stroke="#4a50b8" stroke-width="0.8" stroke-opacity="0.5" stroke-linecap="round" fill="none"/><path d="M148.3 79.5h0M166.0 95.6h0M151.7 72.7h0" stroke="#8a90d8" stroke-width="1.0" stroke-opacity="0.25" stroke-linecap="round" fill="none"/><path d="M154.1 81.7h0M158.2 90.4h0M149.5 94.6h0M167.7 96.7h0" stroke="#8a90d8" stroke-width="0.8" stroke-opacity="1.0" stroke-linecap="round" fill="none"/><path d="M156.4 64.5h0M155.8 62.0h0M156.8 86.3h0M155.2 60.7h0M158.1 64.7h0M156.8 100.8h0M157.7 94.4h0M152.4 106.2h0M143.3 95.4h0M148.0 87.4h0M158.3 95.1h0M167.1 65.0h0" stroke="#1c1c90" stroke-width="0.9" stroke-opacity="0.75" stroke-linecap="round" fill="none"/><path d="M164.2 68.4h0M161.8 66.4h0M149.6 69.7h0M159.5 75.0h0M151.3 75.9h0M163.8 100.1h0M151.1 74.7h0M166.3 63.8h0M159.2 84.2h0M168.0 60.9h0M160.7 64.4h0M153.7 63.6h0M155.1 99.4h0" stroke="#2e34aa" stroke-width="0.8" stroke-opacity="0.75" stroke-linecap="round" fill="none"/><path d="M159.8 69.1h0M159.3 94.5h0M162.6 95.8h0M162.5 84.2h0" stroke="#2e34aa" stroke-width="0.9" stroke-opacity="0.25" stroke-linecap="round" fill="none"/><path d="M162.6 90.5h0M161.2 58.7h0M159.6 79.4h0M159.0 70.7h0M167.3 98.7h0M142.9 108.0h0M168.8 68.0h0" stroke="#242aa0" stroke-width="0.7" stroke-opacity="0.75" stroke-linecap="round" fill="none"/><path d="M147.3 81.1h0M163.1 93.0h0M157.0 59.0h0M153.1 101.0h0" stroke="#242aa0" stroke-width="0.8" stroke-opacity="1.0" stroke-linecap="round" fill="none"/><path d="M152.4 81.3h0M146.3 83.5h0M154.6 86.6h0M150.0 94.7h0" stroke="#2e34aa" stroke-width="1.2" stroke-opacity="0.5" stroke-linecap="round" fill="none"/><path d="M153.9 76.2h0M163.7 59.8h0M157.6 77.2h0M165.5 78.0h0M162.2 67.3h0M161.6 67.9h0M167.5 85.4h0M158.3 55.4h0M154.7 61.1h0" stroke="#242aa0" stroke-width="1.2" stroke-opacity="0.5" stroke-linecap="round" fill="none"/><path d="M170.0 93.9h0M163.9 71.9h0M149.3 99.6h0M151.0 92.8h0" stroke="#1c1c90" stroke-width="1.2" stroke-opacity="0.25" stroke-linecap="round" fill="none"/><path d="M149.1 90.9h0" stroke="#2e34aa" stroke-width="1.1" stroke-opacity="1.0" stroke-linecap="round" fill="none"/><path d="M165.3 66.7h0M157.5 68.6h0M158.3 107.7h0M162.7 62.1h0M157.5 64.3h0M159.0 96.2h0M166.5 81.9h0M143.0 97.7h0M162.6 84.2h0M159.7 87.7h0" stroke="#7078cc" stroke-width="0.8" stroke-opacity="0.5" stroke-linecap="round" fill="none"/><path d="M156.8 75.0h0M153.1 99.6h0M157.6 62.7h0M166.6 75.0h0" stroke="#8a90d8" stroke-width="1.0" stroke-opacity="1.0" stroke-linecap="round" fill="none"/><path d="M164.5 61.8h0M169.0 60.9h0M167.0 82.0h0M167.8 89.6h0" stroke="#242aa0" stroke-width="1.1" stroke-opacity="0.25" stroke-linecap="round" fill="none"/><path d="M150.1 77.0h0M145.0 90.7h0M153.4 65.3h0M162.7 90.8h0M155.0 85.6h0M150.5 79.5h0M167.5 94.3h0M171.0 59.0h0M159.0 90.6h0M162.8 90.2h0M146.2 91.8h0M149.7 86.2h0M146.6 85.1h0" stroke="#1c1c90" stroke-width="0.8" stroke-opacity="0.5" stroke-linecap="round" fill="none"/><path d="M147.5 88.3h0" stroke="#2e34aa" stroke-width="1.0" stroke-opacity="0.25" stroke-linecap="round" fill="none"/><path d="M157.6 69.0h0M155.2 67.6h0" stroke="#1c1c90" stroke-width="0.7" stroke-opacity="0.25" stroke-linecap="round" fill="none"/><path d="M153.7 96.0h0M155.0 71.5h0" stroke="#8a90d8" stroke-width="1.2" stroke-opacity="0.25" stroke-linecap="round" fill="none"/><path d="M158.6 93.3h0M156.0 91.8h0M151.1 100.3h0M153.2 89.4h0M158.3 66.8h0M150.3 69.6h0" stroke="#1c1c90" stroke-width="1.0" stroke-opacity="0.75" stroke-linecap="round" fill="none"/><path d="M166.6 88.8h0M153.0 71.9h0M156.1 105.3h0M147.9 81.9h0M154.9 53.6h0M154.2 61.9h0M158.7 74.6h0M154.5 100.0h0" stroke="#7078cc" stroke-width="1.2" stroke-opacity="0.5" stroke-linecap="round" fill="none"/><path d="M156.8 100.9h0" stroke="#242aa0" stroke-width="1.2" stroke-opacity="0.25" stroke-linecap="round" fill="none"/><path d="M162.8 64.4h0M158.9 62.4h0M157.9 67.0h0M156.9 83.7h0M154.6 72.1h0" stroke="#2e34aa" stroke-width="0.7" stroke-opacity="0.5" stroke-linecap="round" fill="none"/><path d="M169.0 68.9h0M142.9 74.8h0M167.8 62.2h0" stroke="#8a90d8" stroke-width="1.2" stroke-opacity="1.0" stroke-linecap="round" fill="none"/><path d="M148.7 88.6h0M160.3 86.7h0M159.5 63.8h0M146.7 59.8h0M164.5 68.9h0M167.5 66.1h0M163.8 86.7h0" stroke="#4a50b8" stroke-width="1.0" stroke-opacity="1.0" stroke-linecap="round" fill="none"/><path d="M153.5 95.6h0M161.4 90.0h0" stroke="#4a50b8" stroke-width="1.2" stroke-opacity="0.25" stroke-linecap="round" fill="none"/><path d="M163.4 86.9h0M158.8 107.0h0M154.1 99.6h0" stroke="#4a50b8" stroke-width="0.8" stroke-opacity="0.25" stroke-linecap="round" fill="none"/><path d="M156.5 85.8h0M161.6 69.8h0" stroke="#1c1c90" stroke-width="0.9" stroke-opacity="1.0" stroke-linecap="round" fill="none"/><path d="M157.0 97.1h0M161.0 54.3h0M159.6 57.9h0M153.5 95.7h0M159.1 95.1h0M166.8 104.5h0M153.3 96.7h0" stroke="#2e34aa" stroke-width="1.1" stroke-opacity="0.75" stroke-linecap="round" fill="none"/><path d="M162.6 93.7h0M148.2 59.5h0M150.5 56.4h0M155.8 99.4h0" stroke="#8a90d8" stroke-width="1.2" stroke-opacity="0.75" stroke-linecap="round" fill="none"/><path d="M155.5 99.9h0M162.4 89.5h0M155.5 88.0h0M161.6 90.8h0M147.9 84.2h0M157.1 88.7h0M154.8 58.6h0" stroke="#242aa0" stroke-width="1.1" stroke-opacity="0.75" stroke-linecap="round" fill="none"/><path d="M155.5 66.9h0M158.2 75.3h0M157.7 73.0h0M159.3 60.1h0" stroke="#1c1c90" stroke-width="0.8" stroke-opacity="0.25" stroke-linecap="round" fill="none"/><path d="M165.6 93.7h0" stroke="#2e34aa" stroke-width="0.7" stroke-opacity="1.0" stroke-linecap="round" fill="none"/><path d="M151.6 94.1h0M149.5 84.6h0M164.1 62.8h0" stroke="#8a90d8" stroke-width="0.7" stroke-opacity="1.0" stroke-linecap="round" fill="none"/><path d="M163.5 91.9h0M148.6 90.5h0M153.2 82.6h0M149.7 71.3h0M152.3 95.4h0" stroke="#4a50b8" stroke-width="1.2" stroke-opacity="0.75" stroke-linecap="round" fill="none"/><path d="M158.8 86.6h0M147.4 93.7h0" stroke="#2e34aa" stroke-width="0.7" stroke-opacity="0.75" stroke-linecap="round" fill="none"/><path d="M149.2 87.8h0" stroke="#1c1c90" stroke-width="1.0" stroke-opacity="1.0" stroke-linecap="round" fill="none"/><path d="M144.8 82.1h0M158.2 101.2h0M146.2 92.6h0M144.8 79.0h0M166.2 89.9h0M162.1 90.1h0M165.9 63.5h0M151.9 69.9h0M154.5 66.4h0" stroke="#8a90d8" stroke-width="0.8" stroke-opacity="0.75" stroke-linecap="round" fill="none"/><path d="M153.1 106.3h0M166.6 78.1h0M161.4 60.5h0M154.1 86.5h0" stroke="#7078cc" stroke-width="1.1" stroke-opacity="0.25" stroke-linecap="round" fill="none"/><path d="M166.0 71.8h0M153.6 107.5h0M168.1 80.8h0M155.9 80.3h0M164.3 106.3h0" stroke="#242aa0" stroke-width="0.7" stroke-opacity="0.25" stroke-linecap="round" fill="none"/><path d="M152.0 70.2h0M162.7 64.9h0M158.6 98.9h0M159.3 75.4h0" stroke="#2e34aa" stroke-width="1.2" stroke-opacity="1.0" stroke-linecap="round" fill="none"/><path d="M154.7 91.2h0M164.2 60.2h0M166.8 80.7h0M149.0 70.3h0" stroke="#2e34aa" stroke-width="1.0" stroke-opacity="1.0" stroke-linecap="round" fill="none"/><path d="M161.1 88.6h0M158.2 99.2h0M161.8 79.8h0M168.7 74.4h0M152.6 77.2h0M163.3 66.8h0M163.8 57.9h0M162.4 73.7h0M162.3 107.6h0" stroke="#8a90d8" stroke-width="0.9" stroke-opacity="0.5" stroke-linecap="round" fill="none"/><path d="M163.5 72.8h0" stroke="#242aa0" stroke-width="0.7" stroke-opacity="1.0" stroke-linecap="round" fill="none"/><path d="M164.1 70.8h0M160.2 104.7h0M163.0 93.8h0M155.5 84.9h0" stroke="#7078cc" stroke-width="1.1" stroke-opacity="1.0" stroke-linecap="round" fill="none"/><path d="M161.0 68.1h0M171.0 102.1h0M164.9 82.7h0M158.6 78.1h0" stroke="#242aa0" stroke-width="1.2" stroke-opacity="0.75" stroke-linecap="round" fill="none"/><path d="M165.5 79.8h0M148.6 87.4h0" stroke="#1c1c90" stroke-width="1.1" stroke-opacity="1.0" stroke-linecap="round" fill="none"/><path d="M160.3 107.4h0M169.3 71.9h0M166.2 60.4h0M146.6 81.2h0" stroke="#8a90d8" stroke-width="0.9" stroke-opacity="1.0" stroke-linecap="round" fill="none"/><path d="M149.6 95.8h0M150.2 88.8h0" stroke="#7078cc" stroke-width="0.9" stroke-opacity="0.25" stroke-linecap="round" fill="none"/><path d="M150.6 89.6h0" stroke="#4a50b8" stroke-width="0.7" stroke-opacity="0.25" stroke-linecap="round" fill="none"/><path d="M168.4 58.9h0M155.4 103.8h0" stroke="#4a50b8" stroke-width="1.1" stroke-opacity="1.0" stroke-linecap="round" fill="none"/><path d="M146.7 59.1h0" stroke="#2e34aa" stroke-width="0.7" stroke-opacity="0.25" stroke-linecap="round" fill="none"/><path d="M160.2 80.2h0M158.2 82.6h0M167.0 75.6h0M150.4 79.3h0M145.7 62.4h0M157.4 98.1h0M156.7 92.7h0M158.2 88.7h0M143.8 108.0h0M152.2 89.2h0" stroke="#2e34aa" stroke-width="1.1" stroke-opacity="0.5" stroke-linecap="round" fill="none"/><path d="M160.9 57.4h0M154.3 98.1h0" stroke="#4a50b8" stroke-width="1.1" stroke-opacity="0.25" stroke-linecap="round" fill="none"/><path d="M149.3 69.4h0" stroke="#7078cc" stroke-width="0.7" stroke-opacity="0.25" stroke-linecap="round" fill="none"/><path d="M148.3 70.1h0M158.1 86.9h0M152.1 98.3h0" stroke="#7078cc" stroke-width="1.0" stroke-opacity="0.25" stroke-linecap="round" fill="none"/><path d="M170.4 104.9h0" stroke="#8a90d8" stroke-width="0.7" stroke-opacity="0.25" stroke-linecap="round" fill="none"/><path d="M155.0 56.7h0M160.5 75.6h0M162.5 81.5h0M160.3 68.2h0" stroke="#8a90d8" stroke-width="1.1" stroke-opacity="1.0" stroke-linecap="round" fill="none"/><path d="M161.1 61.0h0" stroke="#1c1c90" stroke-width="0.7" stroke-opacity="1.0" stroke-linecap="round" fill="none"/><path d="M158.1 81.4h0" stroke="#4a50b8" stroke-width="0.7" stroke-opacity="1.0" stroke-linecap="round" fill="none"/><path d="M159.9 67.9h0M165.0 85.9h0" stroke="#1c1c90" stroke-width="0.8" stroke-opacity="1.0" stroke-linecap="round" fill="none"/><path d="M163.2 59.4h0M143.6 70.1h0" stroke="#8a90d8" stroke-width="0.7" stroke-opacity="0.75" stroke-linecap="round" fill="none"/><path d="M147.6 57.0h0M149.8 81.8h0M157.4 86.3h0" stroke="#7078cc" stroke-width="0.9" stroke-opacity="1.0" stroke-linecap="round" fill="none"/><path d="M150.1 84.8h0M166.6 82.8h0" stroke="#8a90d8" stroke-width="1.2" stroke-opacity="0.5" stroke-linecap="round" fill="none"/><path d="M143.3 68.4h0" stroke="#1c1c90" stroke-width="0.7" stroke-opacity="0.75" stroke-linecap="round" fill="none"/><path d="M157.6 65.8h0M158.6 58.7h0" stroke="#2e34aa" stroke-width="1.2" stroke-opacity="0.75" stroke-linecap="round" fill="none"/><path d="M161.2 99.1h0M158.6 90.3h0M147.0 82.7h0" stroke="#7078cc" stroke-width="0.8" stroke-opacity="1.0" stroke-linecap="round" fill="none"/><path d="M150.9 80.6h0" stroke="#1c1c90" stroke-width="1.2" stroke-opacity="1.0" stroke-linecap="round" fill="none"/><path d="M156.0 95.9h0" stroke="#2e34aa" stroke-width="0.8" stroke-opacity="0.25" stroke-linecap="round" fill="none"/><path d="M136.6 54.3h0M136.7 91.8h0M139.4 93.8h0M136.5 56.2h0M134.8 75.9h0M134.9 98.1h0M141.1 98.3h0M139.7 61.1h0" stroke="#3a40b8" stroke-width="0.9" stroke-opacity="0.75" stroke-linecap="round" fill="none"/><path d="M135.5 55.2h0M139.9 100.2h0M138.9 86.8h0M134.1 63.1h0" stroke="#9aa0e0" stroke-width="1.0" stroke-opacity="0.25" stroke-linecap="round" fill="none"/><path d="M136.0 99.3h0M133.9 74.7h0M139.6 55.3h0M135.8 73.1h0" stroke="#3a40b8" stroke-width="1.0" stroke-opacity="0.5" stroke-linecap="round" fill="none"/><path d="M133.7 91.6h0" stroke="#3a40b8" stroke-width="0.7" stroke-opacity="0.25" stroke-linecap="round" fill="none"/><path d="M134.2 86.0h0M135.9 103.3h0M134.3 81.3h0M137.3 93.8h0M137.6 88.0h0M142.0 82.3h0M136.1 100.2h0M139.0 84.8h0M143.3 72.5h0M135.1 61.1h0M136.7 105.7h0M140.0 62.1h0M141.3 69.0h0" stroke="#7a80d0" stroke-width="0.9" stroke-opacity="0.5" stroke-linecap="round" fill="none"/><path d="M134.9 70.4h0M135.3 97.7h0M136.1 99.7h0M139.6 80.4h0M134.1 79.6h0M135.3 84.9h0" stroke="#2a30a8" stroke-width="0.8" stroke-opacity="0.75" stroke-linecap="round" fill="none"/><path d="M143.2 106.8h0M138.0 52.3h0M136.7 64.5h0M140.8 68.8h0M136.1 79.0h0M139.1 58.7h0" stroke="#9aa0e0" stroke-width="0.9" stroke-opacity="0.25" stroke-linecap="round" fill="none"/><path d="M139.2 59.9h0M134.7 60.1h0M143.9 102.4h0M139.0 55.4h0" stroke="#7a80d0" stroke-width="0.9" stroke-opacity="0.25" stroke-linecap="round" fill="none"/><path d="M140.2 104.1h0M137.2 73.4h0M142.1 63.8h0M141.7 58.7h0M141.2 52.1h0M135.5 89.5h0M140.4 73.4h0M135.9 88.9h0M134.7 99.6h0M140.9 64.0h0M141.8 77.0h0M140.7 105.0h0M136.0 63.6h0" stroke="#3a40b8" stroke-width="0.7" stroke-opacity="0.75" stroke-linecap="round" fill="none"/><path d="M141.0 63.1h0M134.8 57.9h0" stroke="#7a80d0" stroke-width="0.9" stroke-opacity="0.75" stroke-linecap="round" fill="none"/><path d="M142.0 74.1h0M139.7 68.4h0M137.3 74.0h0M134.8 80.1h0M134.1 71.0h0M141.7 69.5h0M134.6 94.4h0M136.8 68.3h0M133.7 61.9h0M140.6 69.3h0M133.7 104.0h0" stroke="#9aa0e0" stroke-width="0.8" stroke-opacity="0.5" stroke-linecap="round" fill="none"/><path d="M138.9 73.6h0M140.0 76.2h0M140.7 97.4h0M137.5 54.5h0M137.3 87.0h0M135.2 97.8h0" stroke="#9aa0e0" stroke-width="0.7" stroke-opacity="0.5" stroke-linecap="round" fill="none"/><path d="M136.3 60.2h0M136.8 66.9h0M141.1 101.2h0M137.5 86.5h0" stroke="#9aa0e0" stroke-width="0.6" stroke-opacity="0.75" stroke-linecap="round" fill="none"/><path d="M135.9 103.0h0M135.6 57.8h0M140.0 97.4h0M133.7 98.7h0M139.9 107.0h0M135.1 92.4h0M139.0 90.5h0" stroke="#2a30a8" stroke-width="0.9" stroke-opacity="0.5" stroke-linecap="round" fill="none"/><path d="M135.4 70.9h0M134.2 84.8h0M140.8 106.4h0M134.0 98.7h0M138.3 88.8h0" stroke="#2a30a8" stroke-width="0.8" stroke-opacity="0.5" stroke-linecap="round" fill="none"/><path d="M138.3 54.0h0" stroke="#3a40b8" stroke-width="1.0" stroke-opacity="0.25" stroke-linecap="round" fill="none"/><path d="M133.5 66.3h0M134.0 99.7h0M134.4 58.7h0M142.0 83.3h0M143.1 95.1h0M138.1 68.4h0M138.5 91.8h0" stroke="#7a80d0" stroke-width="0.8" stroke-opacity="0.5" stroke-linecap="round" fill="none"/><path d="M137.0 75.8h0M135.4 100.4h0M140.5 64.4h0M133.9 87.7h0" stroke="#3a40b8" stroke-width="0.9" stroke-opacity="0.5" stroke-linecap="round" fill="none"/><path d="M137.4 92.1h0M141.9 95.1h0M136.5 91.0h0M140.2 74.0h0M133.7 98.4h0M136.1 62.6h0" stroke="#7a80d0" stroke-width="0.7" stroke-opacity="0.75" stroke-linecap="round" fill="none"/><path d="M139.1 67.1h0" stroke="#2a30a8" stroke-width="1.0" stroke-opacity="0.25" stroke-linecap="round" fill="none"/><path d="M139.5 78.7h0M139.2 52.9h0M135.7 98.7h0M134.2 100.5h0M140.0 91.6h0M137.3 70.1h0M135.7 66.8h0" stroke="#9aa0e0" stroke-width="0.9" stroke-opacity="0.5" stroke-linecap="round" fill="none"/><path d="M137.0 55.2h0M138.8 104.9h0M138.3 63.8h0M141.8 72.2h0M135.8 85.1h0" stroke="#7a80d0" stroke-width="0.8" stroke-opacity="0.75" stroke-linecap="round" fill="none"/><path d="M135.6 65.9h0M141.2 82.4h0M134.5 76.0h0M133.7 92.8h0M139.9 57.5h0M141.8 80.9h0M143.8 66.2h0M134.3 99.1h0M134.4 95.2h0" stroke="#2a30a8" stroke-width="0.7" stroke-opacity="0.5" stroke-linecap="round" fill="none"/><path d="M135.0 64.6h0M139.6 97.3h0M138.1 56.2h0M140.0 84.1h0M136.1 72.5h0M139.0 69.3h0M135.1 57.3h0" stroke="#3a40b8" stroke-width="0.7" stroke-opacity="0.5" stroke-linecap="round" fill="none"/><path d="M139.5 67.3h0M135.8 72.6h0M134.6 93.7h0M138.0 94.9h0M135.8 88.1h0M135.8 98.6h0M141.6 62.4h0M138.1 86.8h0M142.0 104.6h0M134.3 58.2h0" stroke="#7a80d0" stroke-width="1.0" stroke-opacity="0.75" stroke-linecap="round" fill="none"/><path d="M136.3 61.6h0M139.5 71.6h0M141.7 107.4h0" stroke="#2a30a8" stroke-width="0.6" stroke-opacity="0.75" stroke-linecap="round" fill="none"/><path d="M137.6 101.8h0M136.8 68.3h0M134.4 105.5h0M141.0 90.5h0M139.1 75.1h0M134.4 59.5h0M133.7 106.6h0" stroke="#9aa0e0" stroke-width="0.9" stroke-opacity="0.75" stroke-linecap="round" fill="none"/><path d="M137.5 60.0h0M133.8 79.8h0M139.9 57.8h0M134.0 57.2h0M136.5 59.3h0M142.7 75.4h0M136.5 62.0h0" stroke="#9aa0e0" stroke-width="0.7" stroke-opacity="0.75" stroke-linecap="round" fill="none"/><path d="M134.9 86.4h0" stroke="#9aa0e0" stroke-width="0.8" stroke-opacity="0.25" stroke-linecap="round" fill="none"/><path d="M136.4 62.8h0M133.6 103.2h0M142.4 60.9h0M137.7 56.7h0" stroke="#7a80d0" stroke-width="0.6" stroke-opacity="0.75" stroke-linecap="round" fill="none"/><path d="M138.0 60.5h0M134.0 94.9h0" stroke="#7a80d0" stroke-width="0.6" stroke-opacity="0.5" stroke-linecap="round" fill="none"/><path d="M139.9 89.5h0M136.3 57.5h0" stroke="#9aa0e0" stroke-width="0.6" stroke-opacity="0.5" stroke-linecap="round" fill="none"/><path d="M134.2 68.3h0M143.4 103.9h0M137.8 92.7h0M135.2 76.1h0" stroke="#3a40b8" stroke-width="0.9" stroke-opacity="0.25" stroke-linecap="round" fill="none"/><path d="M142.7 67.1h0M134.5 53.5h0" stroke="#7a80d0" stroke-width="0.6" stroke-opacity="0.25" stroke-linecap="round" fill="none"/><path d="M135.3 74.2h0M139.4 90.2h0" stroke="#9aa0e0" stroke-width="1.0" stroke-opacity="0.5" stroke-linecap="round" fill="none"/><path d="M136.3 57.6h0M140.4 64.2h0M136.5 101.3h0M134.9 54.5h0M139.8 102.2h0" stroke="#3a40b8" stroke-width="0.8" stroke-opacity="0.75" stroke-linecap="round" fill="none"/><path d="M136.6 91.4h0M138.9 65.0h0M133.7 100.5h0M138.1 89.4h0M135.6 99.0h0M137.1 74.0h0M138.4 104.4h0" stroke="#9aa0e0" stroke-width="0.8" stroke-opacity="0.75" stroke-linecap="round" fill="none"/><path d="M139.0 65.5h0" stroke="#7a80d0" stroke-width="1.0" stroke-opacity="0.25" stroke-linecap="round" fill="none"/><path d="M135.7 52.2h0M142.7 89.1h0M136.1 64.2h0M142.0 65.6h0M137.4 80.0h0" stroke="#3a40b8" stroke-width="0.6" stroke-opacity="0.75" stroke-linecap="round" fill="none"/><path d="M134.8 104.4h0M139.1 53.5h0M136.2 57.2h0M139.7 57.9h0M136.3 72.0h0M134.7 92.8h0M137.4 103.2h0" stroke="#3a40b8" stroke-width="0.8" stroke-opacity="0.5" stroke-linecap="round" fill="none"/><path d="M135.6 75.5h0M134.1 83.9h0M139.1 86.8h0M139.0 102.0h0M141.5 68.5h0" stroke="#7a80d0" stroke-width="0.7" stroke-opacity="0.5" stroke-linecap="round" fill="none"/><path d="M141.6 71.6h0M141.6 95.8h0M141.6 54.7h0" stroke="#7a80d0" stroke-width="1.0" stroke-opacity="0.5" stroke-linecap="round" fill="none"/><path d="M141.8 95.6h0M135.6 66.4h0M134.2 71.3h0M140.6 77.8h0M134.5 63.0h0M138.9 78.7h0" stroke="#2a30a8" stroke-width="1.0" stroke-opacity="0.5" stroke-linecap="round" fill="none"/><path d="M140.8 79.5h0M138.3 81.2h0M133.9 101.3h0" stroke="#9aa0e0" stroke-width="0.7" stroke-opacity="0.25" stroke-linecap="round" fill="none"/><path d="M133.5 107.2h0" stroke="#7a80d0" stroke-width="0.8" stroke-opacity="0.25" stroke-linecap="round" fill="none"/><path d="M141.6 70.8h0M137.9 82.6h0" stroke="#2a30a8" stroke-width="1.0" stroke-opacity="0.75" stroke-linecap="round" fill="none"/><path d="M134.1 76.3h0M134.8 54.7h0M139.9 71.4h0M142.9 102.6h0M133.7 91.3h0M134.6 89.4h0M143.4 90.2h0M134.8 100.5h0" stroke="#2a30a8" stroke-width="0.9" stroke-opacity="0.75" stroke-linecap="round" fill="none"/><path d="M138.3 107.1h0M139.0 53.6h0M141.4 73.5h0" stroke="#9aa0e0" stroke-width="1.0" stroke-opacity="0.75" stroke-linecap="round" fill="none"/><path d="M135.0 74.8h0M136.1 104.9h0M139.8 70.1h0M137.2 94.1h0" stroke="#2a30a8" stroke-width="0.6" stroke-opacity="0.5" stroke-linecap="round" fill="none"/><path d="M139.7 54.4h0" stroke="#3a40b8" stroke-width="0.6" stroke-opacity="0.25" stroke-linecap="round" fill="none"/><path d="M142.8 70.3h0M139.8 68.1h0" stroke="#3a40b8" stroke-width="0.6" stroke-opacity="0.5" stroke-linecap="round" fill="none"/><path d="M143.6 57.4h0" stroke="#7a80d0" stroke-width="0.7" stroke-opacity="0.25" stroke-linecap="round" fill="none"/><path d="M136.5 58.3h0M140.2 89.8h0" stroke="#2a30a8" stroke-width="0.8" stroke-opacity="0.25" stroke-linecap="round" fill="none"/><path d="M137.8 100.6h0M137.3 105.9h0" stroke="#3a40b8" stroke-width="0.8" stroke-opacity="0.25" stroke-linecap="round" fill="none"/><path d="M139.6 61.7h0M135.9 99.6h0" stroke="#2a30a8" stroke-width="0.7" stroke-opacity="0.75" stroke-linecap="round" fill="none"/><path d="M135.9 101.8h0M141.6 103.1h0M134.5 107.1h0" stroke="#3a40b8" stroke-width="1.0" stroke-opacity="0.75" stroke-linecap="round" fill="none"/><path d="M135.0 59.4h0" stroke="#2a30a8" stroke-width="0.9" stroke-opacity="0.25" stroke-linecap="round" fill="none"/><path d="M135.8 94.5h0" stroke="#2a30a8" stroke-width="0.6" stroke-opacity="0.25" stroke-linecap="round" fill="none"/><g filter="url(#fb)"><ellipse cx="131.8" cy="59.6" rx="3.4" ry="6.4" fill="#2a38c0"/><path d="M129.4 62 L134.2 62 L133.6 80 L130 80 Z" fill="#2a38c0"/><ellipse cx="131.8" cy="59.8" rx="2.5" ry="4.4" fill="#1898e0"/><ellipse cx="131.8" cy="59.6" rx="1.4" ry="2.4" fill="#28b8e0"/><ellipse cx="131.8" cy="93.3" rx="4.5" ry="16" fill="#2a38c0"/><ellipse cx="131.8" cy="93.2" rx="3.8" ry="13.5" fill="#1868d0"/><ellipse cx="131.8" cy="93" rx="3.2" ry="11" fill="#10a0c8"/><ellipse cx="131.8" cy="92.8" rx="2.6" ry="8.8" fill="#30b070"/><ellipse cx="131.8" cy="92.6" rx="2.0" ry="6.5" fill="#a0d030"/><ellipse cx="131.8" cy="92.5" rx="1.4" ry="4.2" fill="#f0d020"/><ellipse cx="131.8" cy="92.4" rx="0.8" ry="2.2" fill="#f08020"/></g></g>
<rect x="35.6" y="40" width="68.4" height="69.5" fill="none" stroke="#aaa" stroke-width="0.8"/>
<rect x="115" y="40" width="69.19999999999999" height="69.5" fill="none" stroke="#aaa" stroke-width="0.8"/>
<rect x="34.90" y="93.00" width="1.40" height="3.40" fill="#111"/>
<rect x="45.50" y="108.70" width="5.00" height="1.80" fill="#111"/>
<rect x="114.30" y="91.50" width="1.40" height="3.40" fill="#111"/>
<rect x="129.50" y="108.70" width="5.00" height="1.80" fill="#111"/>
<text x="38" y="47" font-size="7" text-anchor="start" fill="#222" font-weight="normal">B cells</text>
<text x="38" y="55.6" font-size="7" text-anchor="start" fill="#222" font-weight="normal">9%</text>
<text x="101" y="46.9" font-size="7" text-anchor="end" fill="#222" font-weight="normal">PBs</text>
<text x="101" y="55.6" font-size="7" text-anchor="end" fill="#222" font-weight="normal">0.15%</text>
<text x="101" y="99.2" font-size="7" text-anchor="end" fill="#222" font-weight="normal">PCs</text>
<text x="101" y="107.7" font-size="7" text-anchor="end" fill="#222" font-weight="normal">0.3%</text>
<text x="118" y="46.9" font-size="7" text-anchor="start" fill="#222" font-weight="normal">B cells</text>
<text x="118" y="55.8" font-size="7" text-anchor="start" fill="#222" font-weight="normal">7.3%</text>
<text x="183.8" y="46.9" font-size="7" text-anchor="end" fill="#222" font-weight="normal">PBs</text>
<text x="183.8" y="55.6" font-size="7" text-anchor="end" fill="#222" font-weight="normal">2.7%</text>
<text x="183.8" y="99.2" font-size="7" text-anchor="end" fill="#222" font-weight="normal">PCs</text>
<text x="183.8" y="107.7" font-size="7" text-anchor="end" fill="#222" font-weight="normal">4.62%</text>
<line x1="29.2" y1="115" x2="29.2" y2="95.5" stroke="#111" stroke-width="0.9"/>
<path d="M29.2 92.8 L27.4 96.6 L31 96.6 Z" fill="#111"/>
<line x1="28.8" y1="114.6" x2="48.5" y2="114.6" stroke="#111" stroke-width="0.9"/>
<path d="M51.3 114.6 L47.5 112.8 L47.5 116.4 Z" fill="#111"/>
<text x="22" y="105.8" font-size="7" text-anchor="middle" fill="#333" transform="rotate(-90 22 105.8)" dy="2.5">B220</text>
<text x="40" y="123.3" font-size="7" text-anchor="middle" fill="#333" font-weight="normal">CD138</text>
<text x="262.8" y="28.1" font-size="7" text-anchor="middle" fill="#333" font-weight="normal">Control</text>
<line x1="244.6" y1="32.6" x2="280.7" y2="32.6" stroke="#555" stroke-width="1.2"/>
<text x="310.4" y="28.1" font-size="7" text-anchor="middle" fill="#333" font-weight="normal">M88B2m</text>
<line x1="292.2" y1="32.6" x2="328.3" y2="32.6" stroke="#555" stroke-width="1.2"/>
<text x="237" y="49.4" font-size="7" text-anchor="end" fill="#333" font-weight="normal" textLength="25" lengthAdjust="spacingAndGlyphs">Albumin</text>
<text x="237" y="67.6" font-size="7" text-anchor="end" fill="#333" font-weight="normal">α1</text>
<text x="237" y="75.3" font-size="7" text-anchor="end" fill="#333" font-weight="normal">α2</text>
<text x="237" y="87.2" font-size="6.6" text-anchor="end" fill="#333" font-weight="normal">β</text>
<text x="237.2" y="105" font-size="6.6" text-anchor="end" fill="#333" font-weight="normal">γ</text>
<defs><filter id="gb" x="-20%" y="-50%" width="140%" height="200%"><feGaussianBlur stdDeviation="0.75"/></filter><filter id="gb2" x="-20%" y="-20%" width="140%" height="140%"><feGaussianBlur stdDeviation="1.1"/></filter><linearGradient id="lg1" x1="0" y1="38" x2="0" y2="113" gradientUnits="userSpaceOnUse"><stop offset="0.000" stop-color="#e8f1fb"/><stop offset="0.160" stop-color="#cce0f6"/><stop offset="0.267" stop-color="#dceaf9"/><stop offset="0.320" stop-color="#d4e4f7"/><stop offset="0.560" stop-color="#cfe2f6"/><stop offset="0.693" stop-color="#dde9f7"/><stop offset="0.827" stop-color="#d8e5f4"/><stop offset="0.933" stop-color="#e6eef9"/><stop offset="1.000" stop-color="#f0f5fb"/></linearGradient><linearGradient id="lg3" x1="0" y1="38" x2="0" y2="113" gradientUnits="userSpaceOnUse"><stop offset="0.000" stop-color="#e6f1fb"/><stop offset="0.160" stop-color="#d6e8f8"/><stop offset="0.293" stop-color="#d0e4f7"/><stop offset="0.400" stop-color="#c8def5"/><stop offset="0.507" stop-color="#bcd8f3"/><stop offset="0.573" stop-color="#a8ceef"/><stop offset="0.640" stop-color="#8cc0ec"/><stop offset="0.693" stop-color="#a6cdef"/><stop offset="0.747" stop-color="#94c4ed"/><stop offset="0.787" stop-color="#5c9fe0"/><stop offset="0.813" stop-color="#3c88d0"/><stop offset="0.907" stop-color="#3c88d0"/><stop offset="0.960" stop-color="#9ec8ee"/><stop offset="1.000" stop-color="#dceaf8"/></linearGradient><linearGradient id="lg4" x1="0" y1="38" x2="0" y2="113" gradientUnits="userSpaceOnUse"><stop offset="0.000" stop-color="#e6f1fb"/><stop offset="0.160" stop-color="#dbeaf9"/><stop offset="0.427" stop-color="#e0ecf9"/><stop offset="0.587" stop-color="#d0e4f7"/><stop offset="0.653" stop-color="#a4cbee"/><stop offset="0.720" stop-color="#76b0e6"/><stop offset="0.787" stop-color="#4c98dc"/><stop offset="0.880" stop-color="#5aa0e0"/><stop offset="0.933" stop-color="#a8cef0"/><stop offset="1.000" stop-color="#e0ecf8"/></linearGradient></defs><rect x="241.3" y="38" width="18.9" height="75" fill="url(#lg1)" filter="url(#gb)"/><rect x="263.5" y="38" width="18.8" height="75" fill="url(#lg1)" filter="url(#gb)"/><rect x="292.1" y="38" width="16.6" height="75" fill="url(#lg3)" filter="url(#gb)"/><rect x="311" y="38" width="18.2" height="75" fill="url(#lg4)" filter="url(#gb)"/><g filter="url(#gb)"><rect x="242.3" y="44" width="16.9" height="6.2" rx="3" fill="#0a2050"/><rect x="242.3" y="50" width="16.9" height="5" fill="#bcd5f0" opacity="0.7"/><rect x="242.3" y="63.8" width="16.9" height="3" fill="#80acde"/><rect x="242.3" y="70.4" width="16.9" height="3" fill="#8cb6e2"/><rect x="242.3" y="76.5" width="16.9" height="2" fill="#b8d4f0"/><rect x="242.3" y="83" width="16.9" height="3.6" rx="1" fill="#5c98d6"/><rect x="242.8" y="93" width="15.9" height="11" fill="#c2d6ee" opacity="0.85"/><rect x="264.5" y="44" width="16.8" height="6.2" rx="3" fill="#0a2050"/><rect x="264.5" y="50" width="16.8" height="5" fill="#bcd5f0" opacity="0.7"/><rect x="264.5" y="63.8" width="16.8" height="3" fill="#80acde"/><rect x="264.5" y="70.4" width="16.8" height="3" fill="#8cb6e2"/><rect x="264.5" y="76.5" width="16.8" height="2" fill="#b8d4f0"/><rect x="264.5" y="83" width="16.8" height="3.6" rx="1" fill="#5c98d6"/><rect x="265.0" y="93" width="15.8" height="11" fill="#c2d6ee" opacity="0.85"/><rect x="293.3" y="43" width="14.4" height="4" rx="2" fill="#3a7ec2"/><rect x="293" y="62.2" width="15" height="3.6" rx="1" fill="#6094cc"/><rect x="293" y="70" width="15" height="1.6" fill="#a8cbee"/><rect x="293" y="82.6" width="15" height="4.6" rx="1" fill="#5c9cd8" opacity="0.85"/><rect x="292.6" y="98.6" width="15.6" height="8" rx="2.5" fill="#0c5cac"/><rect x="294" y="100.5" width="13" height="4.5" rx="2" fill="#084f98"/><rect x="312" y="42.4" width="16.2" height="5" rx="2.5" fill="#0b58a6"/><rect x="311.6" y="98.8" width="17.2" height="5.4" rx="2" fill="#0a58a8"/></g>
<line x1="240.4" y1="90.4" x2="244" y2="90.4" stroke="#555" stroke-width="1.2"/>
<line x1="240.4" y1="115.5" x2="244" y2="115.5" stroke="#555" stroke-width="1.2"/>
<line x1="251.5" y1="90.4" x2="259" y2="90.4" stroke="#555" stroke-width="1.2"/>
<line x1="251.5" y1="115.5" x2="259" y2="115.5" stroke="#555" stroke-width="1.2"/>
<line x1="267.3" y1="90.4" x2="274.8" y2="90.4" stroke="#555" stroke-width="1.2"/>
<line x1="267.3" y1="115.5" x2="274.8" y2="115.5" stroke="#555" stroke-width="1.2"/>
<line x1="283" y1="90.4" x2="290.5" y2="90.4" stroke="#555" stroke-width="1.2"/>
<line x1="283" y1="115.5" x2="290.5" y2="115.5" stroke="#555" stroke-width="1.2"/>
<line x1="298.7" y1="90.4" x2="306.2" y2="90.4" stroke="#555" stroke-width="1.2"/>
<line x1="298.7" y1="115.5" x2="306.2" y2="115.5" stroke="#555" stroke-width="1.2"/>
<line x1="314" y1="90.4" x2="321.5" y2="90.4" stroke="#555" stroke-width="1.2"/>
<line x1="314" y1="115.5" x2="321.5" y2="115.5" stroke="#555" stroke-width="1.2"/>
<line x1="328.8" y1="90.4" x2="332.8" y2="90.4" stroke="#555" stroke-width="1.2"/>
<line x1="328.8" y1="115.5" x2="332.8" y2="115.5" stroke="#555" stroke-width="1.2"/>
<line x1="240.4" y1="89.8" x2="240.4" y2="93.8" stroke="#555" stroke-width="1.2"/>
<line x1="332.3" y1="89.8" x2="332.3" y2="93.8" stroke="#555" stroke-width="1.2"/>
<line x1="240.4" y1="100" x2="240.4" y2="105.2" stroke="#555" stroke-width="1.2"/>
<line x1="332.3" y1="100" x2="332.3" y2="105.2" stroke="#555" stroke-width="1.2"/>
<line x1="240.4" y1="111.6" x2="240.4" y2="116.1" stroke="#555" stroke-width="1.2"/>
<line x1="332.3" y1="111.6" x2="332.3" y2="116.1" stroke="#555" stroke-width="1.2"/>
<rect x="376.00" y="7.20" width="6.00" height="5.80" fill="#c8c8c8"/>
<text x="385" y="12.2" font-size="6.5" text-anchor="start" fill="#333" font-weight="normal">Control</text>
<rect x="376.00" y="17.10" width="6.00" height="6.00" fill="#c8102e"/>
<text x="385" y="21.8" font-size="6.5" text-anchor="start" fill="#333" font-weight="normal">M88B2m</text>
<rect x="456.20" y="7.20" width="6.00" height="5.80" fill="#c8c8c8"/>
<text x="465.2" y="12.2" font-size="6.5" text-anchor="start" fill="#333" font-weight="normal">Control</text>
<rect x="456.20" y="17.10" width="6.00" height="6.00" fill="#c8102e"/>
<text x="465.2" y="21.8" font-size="6.5" text-anchor="start" fill="#333" font-weight="normal">M88B2m</text>
<rect x="379.00" y="105.84" width="7.30" height="6.75" fill="#c9c9cd"/>
<rect x="388.90" y="77.09" width="8.00" height="35.51" fill="#c8102e"/>
<circle cx="392.70" cy="38.50" r="1.9" fill="#111"/>
<circle cx="391.30" cy="57.30" r="1.9" fill="#111"/>
<circle cx="395.50" cy="57.30" r="1.9" fill="#111"/>
<circle cx="390.90" cy="63.60" r="1.9" fill="#111"/>
<circle cx="394.40" cy="61.30" r="1.9" fill="#111"/>
<circle cx="391.30" cy="76.20" r="1.9" fill="#111"/>
<circle cx="394.00" cy="81.30" r="1.9" fill="#111"/>
<circle cx="391.50" cy="85.80" r="1.9" fill="#111"/>
<circle cx="395.50" cy="88.50" r="1.9" fill="#111"/>
<circle cx="392.00" cy="98.50" r="1.9" fill="#111"/>
<circle cx="394.50" cy="101.60" r="1.9" fill="#111"/>
<circle cx="392.50" cy="107.60" r="1.9" fill="#111"/>
<circle cx="380.90" cy="103.10" r="1.9" fill="#111"/>
<circle cx="383.10" cy="105.30" r="1.9" fill="#111"/>
<circle cx="382.20" cy="106.90" r="1.9" fill="#111"/>
<circle cx="383.80" cy="104.20" r="1.9" fill="#111"/>
<line x1="375.6" y1="32.4" x2="375.6" y2="113.19999999999999" stroke="#1e1e1e" stroke-width="1.25"/>
<line x1="374.1" y1="112.6" x2="402.5" y2="112.6" stroke="#1e1e1e" stroke-width="1.25"/>
<line x1="372.6" y1="112.6" x2="375.6" y2="112.6" stroke="#1e1e1e" stroke-width="0.9"/>
<text x="369.40000000000003" y="115.1" font-size="6.9" text-anchor="end" fill="#333" font-weight="normal" textLength="3.3" lengthAdjust="spacingAndGlyphs">0</text>
<line x1="372.6" y1="93.3" x2="375.6" y2="93.3" stroke="#1e1e1e" stroke-width="0.9"/>
<text x="369.40000000000003" y="95.8" font-size="6.9" text-anchor="end" fill="#333" font-weight="normal" textLength="6.6" lengthAdjust="spacingAndGlyphs">20</text>
<line x1="372.6" y1="74.0" x2="375.6" y2="74.0" stroke="#1e1e1e" stroke-width="0.9"/>
<text x="369.40000000000003" y="76.5" font-size="6.9" text-anchor="end" fill="#333" font-weight="normal" textLength="6.6" lengthAdjust="spacingAndGlyphs">40</text>
<line x1="372.6" y1="54.7" x2="375.6" y2="54.7" stroke="#1e1e1e" stroke-width="0.9"/>
<text x="369.40000000000003" y="57.2" font-size="6.9" text-anchor="end" fill="#333" font-weight="normal" textLength="6.6" lengthAdjust="spacingAndGlyphs">60</text>
<line x1="372.6" y1="35.400000000000006" x2="375.6" y2="35.400000000000006" stroke="#1e1e1e" stroke-width="0.9"/>
<text x="369.40000000000003" y="37.900000000000006" font-size="6.9" text-anchor="end" fill="#333" font-weight="normal" textLength="6.6" lengthAdjust="spacingAndGlyphs">80</text>
<line x1="382.65" y1="112.6" x2="382.65" y2="114.8" stroke="#1e1e1e" stroke-width="0.8"/>
<line x1="392.9" y1="112.6" x2="392.9" y2="114.8" stroke="#1e1e1e" stroke-width="0.8"/>
<circle cx="389.80" cy="28.60" r="0.85" fill="#3a3a3a"/>
<circle cx="392.90" cy="28.60" r="0.85" fill="#3a3a3a"/>
<circle cx="396.00" cy="28.60" r="0.85" fill="#3a3a3a"/>
<text x="353.9" y="73.9" font-size="8.6" text-anchor="middle" fill="#2a2a2a" textLength="61.8" lengthAdjust="spacingAndGlyphs" transform="rotate(-90 353.9 73.9)" dy="3">Gamma fraction (%)</text>
<rect x="486.30" y="71.20" width="14.40" height="32.50" fill="#c8102e"/>
<line x1="493.4" y1="103.7" x2="493.4" y2="38.8" stroke="#222" stroke-width="0.9"/>
<line x1="490" y1="38.8" x2="497" y2="38.8" stroke="#222" stroke-width="0.9"/>
<line x1="486.3" y1="100" x2="500.7" y2="100" stroke="#3a0a10" stroke-width="0.9"/>
<circle cx="493.40" cy="38.60" r="1.9" fill="#111"/>
<circle cx="493.40" cy="81.70" r="1.9" fill="#111"/>
<circle cx="491.00" cy="99.30" r="1.9" fill="#111"/>
<circle cx="498.00" cy="100.00" r="1.9" fill="#111"/>
<circle cx="491.20" cy="106.30" r="1.9" fill="#111"/>
<circle cx="495.50" cy="105.10" r="1.9" fill="#111"/>
<circle cx="465.90" cy="109.80" r="1.9" fill="#111"/>
<circle cx="469.80" cy="109.80" r="1.9" fill="#111"/>
<circle cx="473.50" cy="109.80" r="1.9" fill="#111"/>
<circle cx="476.50" cy="106.70" r="1.9" fill="#111"/>
<line x1="468" y1="106.4" x2="474" y2="106.4" stroke="#222" stroke-width="0.8"/>
<rect x="466.20" y="111.10" width="10.00" height="0.00" fill="#c9c9cd"/>
<rect x="486.30" y="111.10" width="14.20" height="0.00" fill="#c8102e"/>
<line x1="456.3" y1="30.5" x2="456.3" y2="111.69999999999999" stroke="#1e1e1e" stroke-width="1.25"/>
<line x1="454.8" y1="111.1" x2="507.6" y2="111.1" stroke="#1e1e1e" stroke-width="1.25"/>
<line x1="453.3" y1="111.1" x2="456.3" y2="111.1" stroke="#1e1e1e" stroke-width="0.9"/>
<text x="450.1" y="113.6" font-size="6.9" text-anchor="end" fill="#333" font-weight="normal" textLength="3.3" lengthAdjust="spacingAndGlyphs">0</text>
<line x1="453.3" y1="91.69999999999999" x2="456.3" y2="91.69999999999999" stroke="#1e1e1e" stroke-width="0.9"/>
<text x="450.1" y="94.19999999999999" font-size="6.9" text-anchor="end" fill="#333" font-weight="normal" textLength="9.9" lengthAdjust="spacingAndGlyphs">100</text>
<line x1="453.3" y1="72.3" x2="456.3" y2="72.3" stroke="#1e1e1e" stroke-width="0.9"/>
<text x="450.1" y="74.8" font-size="6.9" text-anchor="end" fill="#333" font-weight="normal" textLength="9.9" lengthAdjust="spacingAndGlyphs">200</text>
<line x1="453.3" y1="52.9" x2="456.3" y2="52.9" stroke="#1e1e1e" stroke-width="0.9"/>
<text x="450.1" y="55.4" font-size="6.9" text-anchor="end" fill="#333" font-weight="normal" textLength="9.9" lengthAdjust="spacingAndGlyphs">300</text>
<line x1="453.3" y1="33.5" x2="456.3" y2="33.5" stroke="#1e1e1e" stroke-width="0.9"/>
<text x="450.1" y="36.0" font-size="6.9" text-anchor="end" fill="#333" font-weight="normal" textLength="9.9" lengthAdjust="spacingAndGlyphs">400</text>
<line x1="471.2" y1="111.1" x2="471.2" y2="113.3" stroke="#1e1e1e" stroke-width="0.8"/>
<line x1="493.4" y1="111.1" x2="493.4" y2="113.3" stroke="#1e1e1e" stroke-width="0.8"/>
<circle cx="493.40" cy="28.50" r="0.85" fill="#3a3a3a"/>
<text x="430.5" y="70.8" font-size="8.6" text-anchor="middle" fill="#2a2a2a" textLength="68" lengthAdjust="spacingAndGlyphs" transform="rotate(-90 430.5 70.8)" dy="3">Serum IgM level [g/L]</text>
<rect x="57.10" y="221.58" width="8.60" height="32.72" fill="#c9c9cd"/>
<rect x="70.30" y="215.56" width="8.60" height="38.75" fill="#c8102e"/>
<line x1="61.400000000000006" y1="221.582" x2="61.400000000000006" y2="214.69400000000002" stroke="#222" stroke-width="0.9"/>
<line x1="58.800000000000004" y1="214.69400000000002" x2="64.0" y2="214.69400000000002" stroke="#222" stroke-width="0.9"/>
<line x1="74.6" y1="215.555" x2="74.6" y2="205.223" stroke="#222" stroke-width="0.9"/>
<line x1="72.0" y1="205.223" x2="77.19999999999999" y2="205.223" stroke="#222" stroke-width="0.9"/>
<circle cx="61.30" cy="213.60" r="1.9" fill="#111"/>
<circle cx="61.30" cy="221.00" r="1.9" fill="#111"/>
<circle cx="61.30" cy="228.50" r="1.9" fill="#111"/>
<circle cx="74.50" cy="199.00" r="1.9" fill="#111"/>
<circle cx="72.60" cy="205.00" r="1.9" fill="#111"/>
<circle cx="76.50" cy="204.30" r="1.9" fill="#111"/>
<circle cx="74.50" cy="208.60" r="1.9" fill="#111"/>
<circle cx="76.50" cy="214.80" r="1.9" fill="#111"/>
<circle cx="72.20" cy="217.60" r="1.9" fill="#111"/>
<circle cx="76.50" cy="222.30" r="1.9" fill="#111"/>
<circle cx="72.60" cy="225.00" r="1.9" fill="#111"/>
<circle cx="74.50" cy="226.50" r="1.9" fill="#111"/>
<circle cx="74.50" cy="240.50" r="1.9" fill="#111"/>
<line x1="52.4" y1="165.2" x2="52.4" y2="254.9" stroke="#1e1e1e" stroke-width="1.25"/>
<line x1="51" y1="254.3" x2="87.7" y2="254.3" stroke="#1e1e1e" stroke-width="1.25"/>
<line x1="49.4" y1="254.3" x2="52.4" y2="254.3" stroke="#1e1e1e" stroke-width="0.9"/>
<text x="46.199999999999996" y="256.8" font-size="6.9" text-anchor="end" fill="#333" font-weight="normal" textLength="3.3" lengthAdjust="spacingAndGlyphs">0</text>
<line x1="49.4" y1="237.08" x2="52.4" y2="237.08" stroke="#1e1e1e" stroke-width="0.9"/>
<text x="46.199999999999996" y="239.58" font-size="6.9" text-anchor="end" fill="#333" font-weight="normal" textLength="6.6" lengthAdjust="spacingAndGlyphs">20</text>
<line x1="49.4" y1="219.86" x2="52.4" y2="219.86" stroke="#1e1e1e" stroke-width="0.9"/>
<text x="46.199999999999996" y="222.36" font-size="6.9" text-anchor="end" fill="#333" font-weight="normal" textLength="6.6" lengthAdjust="spacingAndGlyphs">40</text>
<line x1="49.4" y1="202.64" x2="52.4" y2="202.64" stroke="#1e1e1e" stroke-width="0.9"/>
<text x="46.199999999999996" y="205.14" font-size="6.9" text-anchor="end" fill="#333" font-weight="normal" textLength="6.6" lengthAdjust="spacingAndGlyphs">60</text>
<line x1="49.4" y1="185.42" x2="52.4" y2="185.42" stroke="#1e1e1e" stroke-width="0.9"/>
<text x="46.199999999999996" y="187.92" font-size="6.9" text-anchor="end" fill="#333" font-weight="normal" textLength="6.6" lengthAdjust="spacingAndGlyphs">80</text>
<line x1="49.4" y1="168.2" x2="52.4" y2="168.2" stroke="#1e1e1e" stroke-width="0.9"/>
<text x="46.199999999999996" y="170.7" font-size="6.9" text-anchor="end" fill="#333" font-weight="normal" textLength="9.9" lengthAdjust="spacingAndGlyphs">100</text>
<line x1="61.400000000000006" y1="254.3" x2="61.400000000000006" y2="256.5" stroke="#1e1e1e" stroke-width="0.8"/>
<line x1="74.6" y1="254.3" x2="74.6" y2="256.5" stroke="#1e1e1e" stroke-width="0.8"/>
<text x="61.900000000000006" y="261.90000000000003" font-size="7.0" text-anchor="end" fill="#444" font-weight="normal" transform="rotate(-45 61.900000000000006 261.90000000000003)" style="stroke:none">Control</text>
<text x="75.1" y="261.90000000000003" font-size="7.0" text-anchor="end" fill="#444" font-weight="normal" transform="rotate(-45 75.1 261.90000000000003)" style="stroke:none">M88B2m</text>
<text x="26.6" y="209.2" font-size="8.6" text-anchor="middle" fill="#2a2a2a" textLength="46" lengthAdjust="spacingAndGlyphs" transform="rotate(-90 26.6 209.2)" dy="3">CD4<tspan dy="-3.2" font-size="5.4">+</tspan><tspan dy="3.2"> cells (%)</tspan></text>
<rect x="139.20" y="223.16" width="8.70" height="31.14" fill="#c9c9cd"/>
<rect x="152.40" y="238.73" width="9.00" height="15.57" fill="#c8102e"/>
<line x1="143.55" y1="223.16000000000003" x2="143.55" y2="201.53500000000003" stroke="#222" stroke-width="0.9"/>
<line x1="140.95000000000002" y1="201.53500000000003" x2="146.15" y2="201.53500000000003" stroke="#222" stroke-width="0.9"/>
<line x1="156.9" y1="238.73000000000002" x2="156.9" y2="229.215" stroke="#222" stroke-width="0.9"/>
<line x1="154.3" y1="229.215" x2="159.5" y2="229.215" stroke="#222" stroke-width="0.9"/>
<circle cx="141.20" cy="208.60" r="1.9" fill="#111"/>
<circle cx="145.90" cy="213.80" r="1.9" fill="#111"/>
<circle cx="143.20" cy="247.50" r="1.9" fill="#111"/>
<circle cx="156.70" cy="222.60" r="1.9" fill="#111"/>
<circle cx="154.00" cy="226.00" r="1.9" fill="#111"/>
<circle cx="159.00" cy="231.10" r="1.9" fill="#111"/>
<circle cx="156.50" cy="236.30" r="1.9" fill="#111"/>
<circle cx="154.00" cy="240.00" r="1.9" fill="#111"/>
<circle cx="158.00" cy="243.00" r="1.9" fill="#111"/>
<circle cx="155.00" cy="245.50" r="1.9" fill="#111"/>
<circle cx="157.00" cy="248.50" r="1.9" fill="#111"/>
<line x1="134.2" y1="164.8" x2="134.2" y2="254.9" stroke="#1e1e1e" stroke-width="1.25"/>
<line x1="132.7" y1="254.3" x2="170" y2="254.3" stroke="#1e1e1e" stroke-width="1.25"/>
<line x1="131.2" y1="254.3" x2="134.2" y2="254.3" stroke="#1e1e1e" stroke-width="0.9"/>
<text x="127.99999999999999" y="256.8" font-size="6.9" text-anchor="end" fill="#333" font-weight="normal" textLength="3.3" lengthAdjust="spacingAndGlyphs">0</text>
<line x1="131.2" y1="237.0" x2="134.2" y2="237.0" stroke="#1e1e1e" stroke-width="0.9"/>
<text x="127.99999999999999" y="239.5" font-size="6.9" text-anchor="end" fill="#333" font-weight="normal" textLength="6.6" lengthAdjust="spacingAndGlyphs">20</text>
<line x1="131.2" y1="219.70000000000002" x2="134.2" y2="219.70000000000002" stroke="#1e1e1e" stroke-width="0.9"/>
<text x="127.99999999999999" y="222.20000000000002" font-size="6.9" text-anchor="end" fill="#333" font-weight="normal" textLength="6.6" lengthAdjust="spacingAndGlyphs">40</text>
<line x1="131.2" y1="202.4" x2="134.2" y2="202.4" stroke="#1e1e1e" stroke-width="0.9"/>
<text x="127.99999999999999" y="204.9" font-size="6.9" text-anchor="end" fill="#333" font-weight="normal" textLength="6.6" lengthAdjust="spacingAndGlyphs">60</text>
<line x1="131.2" y1="185.10000000000002" x2="134.2" y2="185.10000000000002" stroke="#1e1e1e" stroke-width="0.9"/>
<text x="127.99999999999999" y="187.60000000000002" font-size="6.9" text-anchor="end" fill="#333" font-weight="normal" textLength="6.6" lengthAdjust="spacingAndGlyphs">80</text>
<line x1="131.2" y1="167.8" x2="134.2" y2="167.8" stroke="#1e1e1e" stroke-width="0.9"/>
<text x="127.99999999999999" y="170.3" font-size="6.9" text-anchor="end" fill="#333" font-weight="normal" textLength="9.9" lengthAdjust="spacingAndGlyphs">100</text>
<line x1="143.55" y1="254.3" x2="143.55" y2="256.5" stroke="#1e1e1e" stroke-width="0.8"/>
<line x1="156.9" y1="254.3" x2="156.9" y2="256.5" stroke="#1e1e1e" stroke-width="0.8"/>
<text x="144.05" y="261.90000000000003" font-size="7.0" text-anchor="end" fill="#444" font-weight="normal" transform="rotate(-45 144.05 261.90000000000003)" style="stroke:none">Control</text>
<text x="157.4" y="261.90000000000003" font-size="7.0" text-anchor="end" fill="#444" font-weight="normal" transform="rotate(-45 157.4 261.90000000000003)" style="stroke:none">M88B2m</text>
<circle cx="156.80" cy="203.10" r="0.85" fill="#3a3a3a"/>
<text x="108.9" y="209.9" font-size="8.6" text-anchor="middle" fill="#2a2a2a" textLength="48" lengthAdjust="spacingAndGlyphs" transform="rotate(-90 108.9 209.9)" dy="3">CD8+ cells (%)</text>
<rect x="224.00" y="250.02" width="9.40" height="4.28" fill="#c9c9cd"/>
<rect x="237.90" y="220.02" width="9.40" height="34.28" fill="#c8102e"/>
<line x1="228.7" y1="250.01500000000001" x2="228.7" y2="247.44400000000002" stroke="#222" stroke-width="0.9"/>
<line x1="226.1" y1="247.44400000000002" x2="231.29999999999998" y2="247.44400000000002" stroke="#222" stroke-width="0.9"/>
<line x1="242.60000000000002" y1="220.02" x2="242.60000000000002" y2="213.164" stroke="#222" stroke-width="0.9"/>
<line x1="240.00000000000003" y1="213.164" x2="245.20000000000002" y2="213.164" stroke="#222" stroke-width="0.9"/>
<circle cx="231.00" cy="243.30" r="1.9" fill="#111"/>
<circle cx="227.50" cy="246.50" r="1.9" fill="#111"/>
<circle cx="230.50" cy="247.00" r="1.9" fill="#111"/>
<circle cx="226.00" cy="249.50" r="1.9" fill="#111"/>
<circle cx="229.00" cy="249.50" r="1.9" fill="#111"/>
<circle cx="232.00" cy="250.00" r="1.9" fill="#111"/>
<circle cx="225.50" cy="252.50" r="1.9" fill="#111"/>
<circle cx="228.50" cy="252.50" r="1.9" fill="#111"/>
<circle cx="231.50" cy="252.50" r="1.9" fill="#111"/>
<circle cx="227.00" cy="251.00" r="1.9" fill="#111"/>
<circle cx="230.00" cy="251.50" r="1.9" fill="#111"/>
<circle cx="242.40" cy="198.00" r="1.9" fill="#111"/>
<circle cx="242.40" cy="204.00" r="1.9" fill="#111"/>
<circle cx="242.40" cy="209.60" r="1.9" fill="#111"/>
<circle cx="239.50" cy="214.60" r="1.9" fill="#111"/>
<circle cx="245.00" cy="214.60" r="1.9" fill="#111"/>
<circle cx="241.00" cy="217.00" r="1.9" fill="#111"/>
<circle cx="244.50" cy="217.50" r="1.9" fill="#111"/>
<circle cx="242.40" cy="225.70" r="1.9" fill="#111"/>
<circle cx="242.40" cy="234.60" r="1.9" fill="#111"/>
<circle cx="245.00" cy="240.80" r="1.9" fill="#111"/>
<circle cx="240.00" cy="245.20" r="1.9" fill="#111"/>
<line x1="220.2" y1="165.6" x2="220.2" y2="254.9" stroke="#1e1e1e" stroke-width="1.25"/>
<line x1="218.7" y1="254.3" x2="255.7" y2="254.3" stroke="#1e1e1e" stroke-width="1.25"/>
<line x1="217.2" y1="254.3" x2="220.2" y2="254.3" stroke="#1e1e1e" stroke-width="0.9"/>
<text x="214.0" y="256.8" font-size="6.9" text-anchor="end" fill="#333" font-weight="normal" textLength="3.3" lengthAdjust="spacingAndGlyphs">0</text>
<line x1="217.2" y1="211.45" x2="220.2" y2="211.45" stroke="#1e1e1e" stroke-width="0.9"/>
<text x="214.0" y="213.95" font-size="6.9" text-anchor="end" fill="#333" font-weight="normal" textLength="6.6" lengthAdjust="spacingAndGlyphs">50</text>
<line x1="217.2" y1="168.6" x2="220.2" y2="168.6" stroke="#1e1e1e" stroke-width="0.9"/>
<text x="214.0" y="171.1" font-size="6.9" text-anchor="end" fill="#333" font-weight="normal" textLength="9.9" lengthAdjust="spacingAndGlyphs">100</text>
<line x1="228.7" y1="254.3" x2="228.7" y2="256.5" stroke="#1e1e1e" stroke-width="0.8"/>
<line x1="242.60000000000002" y1="254.3" x2="242.60000000000002" y2="256.5" stroke="#1e1e1e" stroke-width="0.8"/>
<text x="229.2" y="261.90000000000003" font-size="7.0" text-anchor="end" fill="#444" font-weight="normal" transform="rotate(-45 229.2 261.90000000000003)" style="stroke:none">Control</text>
<text x="243.10000000000002" y="261.90000000000003" font-size="7.0" text-anchor="end" fill="#444" font-weight="normal" transform="rotate(-45 243.10000000000002 261.90000000000003)" style="stroke:none">M88B2m</text>
<circle cx="239.30" cy="186.40" r="0.85" fill="#3a3a3a"/>
<circle cx="242.40" cy="186.40" r="0.85" fill="#3a3a3a"/>
<circle cx="245.50" cy="186.40" r="0.85" fill="#3a3a3a"/>
<text x="194.2" y="211.5" font-size="8.6" text-anchor="middle" fill="#2a2a2a" textLength="64" lengthAdjust="spacingAndGlyphs" transform="rotate(-90 194.2 211.5)" dy="3">TIGIT<tspan dy="-3.2" font-size="5.4">+</tspan><tspan dy="3.2">CD4</tspan><tspan dy="-3.2" font-size="5.4">+</tspan><tspan dy="3.2"> cells (%)</tspan></text>
<rect x="310.50" y="251.73" width="9.00" height="2.57" fill="#c9c9cd"/>
<rect x="323.90" y="218.31" width="8.50" height="35.99" fill="#c8102e"/>
<line x1="315.0" y1="251.729" x2="315.0" y2="250.01500000000001" stroke="#222" stroke-width="0.9"/>
<line x1="312.4" y1="250.01500000000001" x2="317.6" y2="250.01500000000001" stroke="#222" stroke-width="0.9"/>
<line x1="328.15" y1="218.306" x2="328.15" y2="207.165" stroke="#222" stroke-width="0.9"/>
<line x1="325.54999999999995" y1="207.165" x2="330.75" y2="207.165" stroke="#222" stroke-width="0.9"/>
<circle cx="314.30" cy="247.00" r="1.9" fill="#111"/>
<circle cx="312.50" cy="250.50" r="1.9" fill="#111"/>
<circle cx="316.50" cy="250.50" r="1.9" fill="#111"/>
<circle cx="314.50" cy="251.50" r="1.9" fill="#111"/>
<circle cx="311.80" cy="252.80" r="1.9" fill="#111"/>
<circle cx="317.20" cy="252.80" r="1.9" fill="#111"/>
<circle cx="314.50" cy="253.30" r="1.9" fill="#111"/>
<circle cx="325.50" cy="202.20" r="1.9" fill="#111"/>
<circle cx="330.80" cy="202.00" r="1.9" fill="#111"/>
<circle cx="328.00" cy="206.20" r="1.9" fill="#111"/>
<circle cx="326.00" cy="212.00" r="1.9" fill="#111"/>
<circle cx="330.50" cy="212.50" r="1.9" fill="#111"/>
<circle cx="328.00" cy="214.50" r="1.9" fill="#111"/>
<circle cx="326.00" cy="218.50" r="1.9" fill="#111"/>
<circle cx="331.00" cy="218.50" r="1.9" fill="#111"/>
<circle cx="328.00" cy="230.20" r="1.9" fill="#111"/>
<circle cx="325.50" cy="244.70" r="1.9" fill="#111"/>
<circle cx="330.50" cy="244.70" r="1.9" fill="#111"/>
<line x1="305.9" y1="165.6" x2="305.9" y2="254.9" stroke="#1e1e1e" stroke-width="1.25"/>
<line x1="304.4" y1="254.3" x2="342" y2="254.3" stroke="#1e1e1e" stroke-width="1.25"/>
<line x1="302.9" y1="254.3" x2="305.9" y2="254.3" stroke="#1e1e1e" stroke-width="0.9"/>
<text x="299.7" y="256.8" font-size="6.9" text-anchor="end" fill="#333" font-weight="normal" textLength="3.3" lengthAdjust="spacingAndGlyphs">0</text>
<line x1="302.9" y1="211.45" x2="305.9" y2="211.45" stroke="#1e1e1e" stroke-width="0.9"/>
<text x="299.7" y="213.95" font-size="6.9" text-anchor="end" fill="#333" font-weight="normal" textLength="6.6" lengthAdjust="spacingAndGlyphs">50</text>
<line x1="302.9" y1="168.6" x2="305.9" y2="168.6" stroke="#1e1e1e" stroke-width="0.9"/>
<text x="299.7" y="171.1" font-size="6.9" text-anchor="end" fill="#333" font-weight="normal" textLength="9.9" lengthAdjust="spacingAndGlyphs">100</text>
<line x1="315.0" y1="254.3" x2="315.0" y2="256.5" stroke="#1e1e1e" stroke-width="0.8"/>
<line x1="328.15" y1="254.3" x2="328.15" y2="256.5" stroke="#1e1e1e" stroke-width="0.8"/>
<text x="315.5" y="261.90000000000003" font-size="7.0" text-anchor="end" fill="#444" font-weight="normal" transform="rotate(-45 315.5 261.90000000000003)" style="stroke:none">Control</text>
<text x="328.65" y="261.90000000000003" font-size="7.0" text-anchor="end" fill="#444" font-weight="normal" transform="rotate(-45 328.65 261.90000000000003)" style="stroke:none">M88B2m</text>
<circle cx="324.90" cy="186.20" r="0.85" fill="#3a3a3a"/>
<circle cx="328.00" cy="186.20" r="0.85" fill="#3a3a3a"/>
<circle cx="331.10" cy="186.20" r="0.85" fill="#3a3a3a"/>
<text x="280.5" y="210.7" font-size="8.6" text-anchor="middle" fill="#2a2a2a" textLength="65" lengthAdjust="spacingAndGlyphs" transform="rotate(-90 280.5 210.7)" dy="3">TIGIT<tspan dy="-3.2" font-size="5.4">+</tspan><tspan dy="3.2">CD8</tspan><tspan dy="-3.2" font-size="5.4">+</tspan><tspan dy="3.2"> cells (%)</tspan></text>
<rect x="396.10" y="224.04" width="9.00" height="30.36" fill="#c9c9cd"/>
<rect x="409.80" y="195.46" width="8.80" height="58.94" fill="#c8102e"/>
<line x1="400.6" y1="224.038" x2="400.6" y2="215.108" stroke="#222" stroke-width="0.9"/>
<line x1="398.0" y1="215.108" x2="403.20000000000005" y2="215.108" stroke="#222" stroke-width="0.9"/>
<line x1="414.20000000000005" y1="195.462" x2="414.20000000000005" y2="174.923" stroke="#222" stroke-width="0.9"/>
<line x1="411.6" y1="174.923" x2="416.80000000000007" y2="174.923" stroke="#222" stroke-width="0.9"/>
<circle cx="398.00" cy="208.60" r="1.9" fill="#111"/>
<circle cx="402.50" cy="206.30" r="1.9" fill="#111"/>
<circle cx="397.50" cy="216.40" r="1.9" fill="#111"/>
<circle cx="402.00" cy="218.00" r="1.9" fill="#111"/>
<circle cx="404.00" cy="218.70" r="1.9" fill="#111"/>
<circle cx="399.00" cy="222.50" r="1.9" fill="#111"/>
<circle cx="402.00" cy="224.00" r="1.9" fill="#111"/>
<circle cx="399.00" cy="226.00" r="1.9" fill="#111"/>
<circle cx="404.00" cy="225.00" r="1.9" fill="#111"/>
<circle cx="400.00" cy="228.00" r="1.9" fill="#111"/>
<circle cx="398.00" cy="232.00" r="1.9" fill="#111"/>
<circle cx="402.00" cy="233.50" r="1.9" fill="#111"/>
<circle cx="403.00" cy="235.50" r="1.9" fill="#111"/>
<circle cx="398.00" cy="239.40" r="1.9" fill="#111"/>
<circle cx="411.50" cy="171.00" r="1.9" fill="#111"/>
<circle cx="414.50" cy="169.00" r="1.9" fill="#111"/>
<circle cx="416.00" cy="168.00" r="1.9" fill="#111"/>
<circle cx="413.00" cy="172.00" r="1.9" fill="#111"/>
<circle cx="416.00" cy="182.60" r="1.9" fill="#111"/>
<circle cx="412.00" cy="185.90" r="1.9" fill="#111"/>
<circle cx="413.50" cy="206.30" r="1.9" fill="#111"/>
<circle cx="417.00" cy="206.50" r="1.9" fill="#111"/>
<circle cx="414.50" cy="208.50" r="1.9" fill="#111"/>
<circle cx="414.00" cy="227.30" r="1.9" fill="#111"/>
<line x1="389.4" y1="162.1" x2="389.4" y2="255.0" stroke="#1e1e1e" stroke-width="1.25"/>
<line x1="387.9" y1="254.4" x2="425.5" y2="254.4" stroke="#1e1e1e" stroke-width="1.25"/>
<line x1="386.4" y1="254.4" x2="389.4" y2="254.4" stroke="#1e1e1e" stroke-width="0.9"/>
<text x="383.2" y="256.9" font-size="6.9" text-anchor="end" fill="#333" font-weight="normal" textLength="3.3" lengthAdjust="spacingAndGlyphs">0</text>
<line x1="386.4" y1="209.75" x2="389.4" y2="209.75" stroke="#1e1e1e" stroke-width="0.9"/>
<text x="383.2" y="212.25" font-size="6.9" text-anchor="end" fill="#333" font-weight="normal" textLength="6.6" lengthAdjust="spacingAndGlyphs">50</text>
<line x1="386.4" y1="165.1" x2="389.4" y2="165.1" stroke="#1e1e1e" stroke-width="0.9"/>
<text x="383.2" y="167.6" font-size="6.9" text-anchor="end" fill="#333" font-weight="normal" textLength="9.9" lengthAdjust="spacingAndGlyphs">100</text>
<line x1="400.6" y1="254.4" x2="400.6" y2="256.6" stroke="#1e1e1e" stroke-width="0.8"/>
<line x1="414.20000000000005" y1="254.4" x2="414.20000000000005" y2="256.6" stroke="#1e1e1e" stroke-width="0.8"/>
<text x="401.1" y="262.0" font-size="7.0" text-anchor="end" fill="#444" font-weight="normal" transform="rotate(-45 401.1 262.0)" style="stroke:none">Control</text>
<text x="414.70000000000005" y="262.0" font-size="7.0" text-anchor="end" fill="#444" font-weight="normal" transform="rotate(-45 414.70000000000005 262.0)" style="stroke:none">M88B2m</text>
<circle cx="411.75" cy="158.80" r="0.85" fill="#3a3a3a"/>
<circle cx="414.85" cy="158.80" r="0.85" fill="#3a3a3a"/>
<text x="367.2" y="206.6" font-size="8.6" text-anchor="middle" fill="#2a2a2a" textLength="66.8" lengthAdjust="spacingAndGlyphs" transform="rotate(-90 367.2 206.6)" dy="3">PD1<tspan dy="-3.2" font-size="5.4">+</tspan><tspan dy="3.2">CD4</tspan><tspan dy="-3.2" font-size="5.4">+</tspan><tspan dy="3.2"> cells (%)</tspan></text>
<rect x="481.60" y="243.88" width="8.30" height="10.22" fill="#c9c9cd"/>
<rect x="495.10" y="200.42" width="8.30" height="53.68" fill="#c8102e"/>
<line x1="485.75" y1="243.876" x2="485.75" y2="228.54" stroke="#222" stroke-width="0.9"/>
<line x1="483.15" y1="228.54" x2="488.35" y2="228.54" stroke="#222" stroke-width="0.9"/>
<line x1="499.25" y1="200.424" x2="499.25" y2="182.532" stroke="#222" stroke-width="0.9"/>
<line x1="496.65" y1="182.532" x2="501.85" y2="182.532" stroke="#222" stroke-width="0.9"/>
<circle cx="483.50" cy="211.70" r="1.9" fill="#111"/>
<circle cx="488.00" cy="209.90" r="1.9" fill="#111"/>
<circle cx="483.00" cy="232.70" r="1.9" fill="#111"/>
<circle cx="487.50" cy="232.50" r="1.9" fill="#111"/>
<circle cx="485.50" cy="238.00" r="1.9" fill="#111"/>
<circle cx="483.00" cy="245.00" r="1.9" fill="#111"/>
<circle cx="487.00" cy="245.00" r="1.9" fill="#111"/>
<circle cx="484.00" cy="248.00" r="1.9" fill="#111"/>
<circle cx="488.00" cy="249.00" r="1.9" fill="#111"/>
<circle cx="485.00" cy="251.00" r="1.9" fill="#111"/>
<circle cx="483.00" cy="252.50" r="1.9" fill="#111"/>
<circle cx="487.00" cy="252.50" r="1.9" fill="#111"/>
<circle cx="497.00" cy="173.50" r="1.9" fill="#111"/>
<circle cx="501.50" cy="175.30" r="1.9" fill="#111"/>
<circle cx="499.00" cy="177.20" r="1.9" fill="#111"/>
<circle cx="499.30" cy="195.50" r="1.9" fill="#111"/>
<circle cx="496.50" cy="203.20" r="1.9" fill="#111"/>
<circle cx="501.50" cy="203.00" r="1.9" fill="#111"/>
<circle cx="498.00" cy="210.00" r="1.9" fill="#111"/>
<circle cx="501.50" cy="211.00" r="1.9" fill="#111"/>
<circle cx="499.00" cy="216.00" r="1.9" fill="#111"/>
<circle cx="500.50" cy="218.00" r="1.9" fill="#111"/>
<circle cx="496.50" cy="221.00" r="1.9" fill="#111"/>
<line x1="477" y1="165.9" x2="477" y2="254.7" stroke="#1e1e1e" stroke-width="1.25"/>
<line x1="475.5" y1="254.1" x2="511.9" y2="254.1" stroke="#1e1e1e" stroke-width="1.25"/>
<line x1="474" y1="254.1" x2="477" y2="254.1" stroke="#1e1e1e" stroke-width="0.9"/>
<text x="470.8" y="256.6" font-size="6.9" text-anchor="end" fill="#333" font-weight="normal" textLength="3.3" lengthAdjust="spacingAndGlyphs">0</text>
<line x1="474" y1="211.5" x2="477" y2="211.5" stroke="#1e1e1e" stroke-width="0.9"/>
<text x="470.8" y="214.0" font-size="6.9" text-anchor="end" fill="#333" font-weight="normal" textLength="6.6" lengthAdjust="spacingAndGlyphs">50</text>
<line x1="474" y1="168.9" x2="477" y2="168.9" stroke="#1e1e1e" stroke-width="0.9"/>
<text x="470.8" y="171.4" font-size="6.9" text-anchor="end" fill="#333" font-weight="normal" textLength="9.9" lengthAdjust="spacingAndGlyphs">100</text>
<line x1="485.75" y1="254.1" x2="485.75" y2="256.3" stroke="#1e1e1e" stroke-width="0.8"/>
<line x1="499.25" y1="254.1" x2="499.25" y2="256.3" stroke="#1e1e1e" stroke-width="0.8"/>
<text x="486.25" y="261.7" font-size="7.0" text-anchor="end" fill="#444" font-weight="normal" transform="rotate(-45 486.25 261.7)" style="stroke:none">Control</text>
<text x="499.75" y="261.7" font-size="7.0" text-anchor="end" fill="#444" font-weight="normal" transform="rotate(-45 499.75 261.7)" style="stroke:none">M88B2m</text>
<circle cx="496.20" cy="162.60" r="0.85" fill="#3a3a3a"/>
<circle cx="499.30" cy="162.60" r="0.85" fill="#3a3a3a"/>
<circle cx="502.40" cy="162.60" r="0.85" fill="#3a3a3a"/>
<text x="451.1" y="210.6" font-size="8.6" text-anchor="middle" fill="#2a2a2a" textLength="62" lengthAdjust="spacingAndGlyphs" transform="rotate(-90 451.1 210.6)" dy="3">PD1<tspan dy="-3.2" font-size="5.4">+</tspan><tspan dy="3.2">CD8</tspan><tspan dy="-3.2" font-size="5.4">+</tspan><tspan dy="3.2"> cells (%)</tspan></text>
<text x="85" y="333.6" font-size="7" text-anchor="middle" fill="#333" font-weight="normal">Control</text>
<line x1="50.5" y1="338.3" x2="119.6" y2="338.3" stroke="#444" stroke-width="1.2"/>
<text x="166.3" y="333.6" font-size="7" text-anchor="middle" fill="#333" font-weight="normal">M88B2m</text>
<line x1="132.5" y1="338.3" x2="200" y2="338.3" stroke="#444" stroke-width="1.2"/>
<line x1="79.6" y1="343.3" x2="79.6" y2="410.2" stroke="#999" stroke-width="0.8"/>
<line x1="52.5" y1="385.2" x2="118.2" y2="385.2" stroke="#999" stroke-width="0.8"/>
<line x1="160" y1="343.3" x2="160" y2="410.2" stroke="#999" stroke-width="0.8"/>
<line x1="134" y1="389.2" x2="199.9" y2="389.2" stroke="#999" stroke-width="0.8"/>
<defs><clipPath id="cpD1"><rect x="52.5" y="343.3" width="65.7" height="66.9"/></clipPath><clipPath id="cpD2"><rect x="134" y="343.3" width="65.9" height="66.9"/></clipPath></defs><g clip-path="url(#cpD1)"><path d="M66 388 C72 384 78 379.5 84 376 C88 373.8 93 373.5 96.5 375.5 C97.5 380 97 386 95.5 390 L70 392 Z" fill="#6a60c0" opacity="0.45" filter="url(#fb3)"/><path d="M78.9 377.8h0M73.5 382.2h0M81.5 381.3h0M76.5 384.0h0M90.1 378.5h0M79.4 382.0h0M74.0 383.7h0" stroke="#2a2a90" stroke-width="0.9" stroke-opacity="0.75" stroke-linecap="round" fill="none"/><path d="M78.9 381.1h0M89.7 378.4h0M93.1 378.6h0" stroke="#1c1c78" stroke-width="1.0" stroke-opacity="0.5" stroke-linecap="round" fill="none"/><path d="M96.2 378.9h0M68.5 386.2h0" stroke="#6a5cb8" stroke-width="1.0" stroke-opacity="1.0" stroke-linecap="round" fill="none"/><path d="M78.5 380.7h0M89.6 378.6h0M75.3 383.8h0" stroke="#2a2a90" stroke-width="0.9" stroke-opacity="0.5" stroke-linecap="round" fill="none"/><path d="M77.4 383.0h0M81.1 380.3h0M95.1 377.4h0M86.5 377.9h0M95.5 376.4h0M68.7 387.6h0M97.9 375.1h0" stroke="#6a5cb8" stroke-width="1.0" stroke-opacity="0.5" stroke-linecap="round" fill="none"/><path d="M87.2 375.0h0M83.9 377.8h0M80.7 376.9h0" stroke="#8a80d0" stroke-width="0.7" stroke-opacity="0.75" stroke-linecap="round" fill="none"/><path d="M69.2 386.3h0M69.4 387.2h0M73.9 384.7h0M78.0 378.9h0M79.2 380.6h0M87.4 378.1h0" stroke="#8a80d0" stroke-width="0.8" stroke-opacity="0.75" stroke-linecap="round" fill="none"/><path d="M88.2 376.9h0M71.4 382.1h0M69.7 383.1h0M90.1 375.7h0" stroke="#6a5cb8" stroke-width="0.8" stroke-opacity="0.5" stroke-linecap="round" fill="none"/><path d="M83.9 379.8h0M74.2 381.0h0M69.2 386.0h0M77.4 380.8h0M81.3 376.6h0M74.9 383.2h0M83.7 377.9h0M71.3 383.3h0M91.8 378.1h0" stroke="#1c1c78" stroke-width="0.8" stroke-opacity="0.5" stroke-linecap="round" fill="none"/><path d="M70.7 386.8h0M70.1 384.1h0M97.1 378.1h0M96.1 378.4h0" stroke="#2a2a90" stroke-width="0.8" stroke-opacity="0.5" stroke-linecap="round" fill="none"/><path d="M81.2 380.2h0M74.5 382.4h0M90.5 375.1h0M88.5 377.2h0M75.5 383.0h0M95.9 375.5h0M73.0 383.5h0" stroke="#4a40a8" stroke-width="1.1" stroke-opacity="0.5" stroke-linecap="round" fill="none"/><path d="M70.8 383.1h0M78.1 381.2h0M94.8 374.1h0" stroke="#1c1c78" stroke-width="1.2" stroke-opacity="0.75" stroke-linecap="round" fill="none"/><path d="M93.2 377.9h0M84.7 375.8h0" stroke="#6a5cb8" stroke-width="1.2" stroke-opacity="0.75" stroke-linecap="round" fill="none"/><path d="M68.3 386.9h0M71.7 382.2h0M87.9 375.7h0M81.9 376.5h0" stroke="#6a5cb8" stroke-width="1.0" stroke-opacity="0.75" stroke-linecap="round" fill="none"/><path d="M76.3 383.0h0M84.3 375.7h0M73.5 382.6h0" stroke="#8a80d0" stroke-width="0.9" stroke-opacity="0.75" stroke-linecap="round" fill="none"/><path d="M96.3 376.9h0M83.5 378.6h0M73.3 383.5h0M93.4 378.2h0" stroke="#2a2a90" stroke-width="1.1" stroke-opacity="0.5" stroke-linecap="round" fill="none"/><path d="M87.2 376.1h0M96.6 378.1h0M96.3 374.1h0M71.4 384.7h0M71.3 385.6h0M71.6 386.0h0M89.7 374.2h0" stroke="#2a2a90" stroke-width="1.1" stroke-opacity="0.75" stroke-linecap="round" fill="none"/><path d="M77.2 382.4h0M69.6 385.3h0M93.4 375.7h0M85.4 377.0h0" stroke="#1c1c78" stroke-width="1.1" stroke-opacity="0.75" stroke-linecap="round" fill="none"/><path d="M79.0 381.9h0M69.4 387.5h0M96.2 376.5h0M96.7 374.0h0M87.5 374.6h0M72.8 385.8h0M92.7 375.6h0M92.0 374.1h0M95.6 377.0h0" stroke="#2a2a90" stroke-width="1.0" stroke-opacity="0.75" stroke-linecap="round" fill="none"/><path d="M85.9 378.7h0M91.1 377.0h0M74.5 384.1h0M92.1 374.8h0" stroke="#4a40a8" stroke-width="1.0" stroke-opacity="0.5" stroke-linecap="round" fill="none"/><path d="M71.6 384.1h0M83.8 376.1h0" stroke="#1c1c78" stroke-width="0.7" stroke-opacity="0.5" stroke-linecap="round" fill="none"/><path d="M97.5 374.4h0M86.7 377.2h0M85.2 377.9h0M93.4 377.5h0M74.1 381.1h0" stroke="#4a40a8" stroke-width="0.8" stroke-opacity="0.75" stroke-linecap="round" fill="none"/><path d="M88.4 375.0h0M96.2 378.7h0M77.2 383.1h0" stroke="#2a2a90" stroke-width="1.1" stroke-opacity="1.0" stroke-linecap="round" fill="none"/><path d="M68.7 385.5h0M77.3 381.1h0M91.8 376.1h0M95.7 376.0h0M71.3 384.6h0M96.9 378.4h0M80.7 377.1h0" stroke="#4a40a8" stroke-width="1.0" stroke-opacity="0.75" stroke-linecap="round" fill="none"/><path d="M75.7 382.4h0" stroke="#8a80d0" stroke-width="1.2" stroke-opacity="0.75" stroke-linecap="round" fill="none"/><path d="M71.3 383.2h0M69.0 386.1h0M86.3 374.4h0M75.9 380.3h0M91.9 376.2h0" stroke="#6a5cb8" stroke-width="1.1" stroke-opacity="0.75" stroke-linecap="round" fill="none"/><path d="M71.8 384.6h0" stroke="#4a40a8" stroke-width="0.9" stroke-opacity="1.0" stroke-linecap="round" fill="none"/><path d="M93.3 374.0h0M70.7 382.8h0M83.6 377.8h0M83.8 378.6h0M83.6 379.9h0" stroke="#6a5cb8" stroke-width="0.9" stroke-opacity="0.5" stroke-linecap="round" fill="none"/><path d="M88.9 375.2h0M91.5 377.1h0" stroke="#6a5cb8" stroke-width="1.1" stroke-opacity="1.0" stroke-linecap="round" fill="none"/><path d="M84.6 374.7h0M96.2 374.2h0M76.9 383.4h0M91.0 375.0h0M72.4 384.8h0" stroke="#4a40a8" stroke-width="0.9" stroke-opacity="0.5" stroke-linecap="round" fill="none"/><path d="M88.5 376.2h0M85.1 376.6h0M95.6 374.2h0M93.6 376.2h0M81.2 376.6h0M74.4 385.2h0M84.1 377.5h0" stroke="#8a80d0" stroke-width="0.8" stroke-opacity="0.5" stroke-linecap="round" fill="none"/><path d="M74.0 382.2h0M69.2 385.1h0" stroke="#8a80d0" stroke-width="1.0" stroke-opacity="0.75" stroke-linecap="round" fill="none"/><path d="M96.6 378.6h0M97.2 376.1h0M96.8 378.4h0" stroke="#1c1c78" stroke-width="0.9" stroke-opacity="0.5" stroke-linecap="round" fill="none"/><path d="M96.4 377.7h0M76.5 379.3h0M85.0 378.2h0" stroke="#4a40a8" stroke-width="0.9" stroke-opacity="0.75" stroke-linecap="round" fill="none"/><path d="M75.7 380.5h0M71.8 382.7h0M75.5 383.2h0M95.8 375.4h0M95.6 375.2h0" stroke="#1c1c78" stroke-width="1.0" stroke-opacity="0.75" stroke-linecap="round" fill="none"/><path d="M88.1 376.0h0M73.6 382.2h0" stroke="#6a5cb8" stroke-width="0.8" stroke-opacity="0.75" stroke-linecap="round" fill="none"/><path d="M92.5 374.8h0M84.6 378.1h0M93.6 378.8h0M97.6 375.8h0" stroke="#2a2a90" stroke-width="0.7" stroke-opacity="0.5" stroke-linecap="round" fill="none"/><path d="M86.3 376.6h0M73.8 380.6h0" stroke="#1c1c78" stroke-width="0.9" stroke-opacity="0.75" stroke-linecap="round" fill="none"/><path d="M90.1 377.8h0M74.9 383.8h0M97.7 377.2h0M88.1 375.8h0M85.4 377.5h0M68.6 383.9h0" stroke="#8a80d0" stroke-width="1.0" stroke-opacity="0.5" stroke-linecap="round" fill="none"/><path d="M97.4 375.5h0" stroke="#1c1c78" stroke-width="1.2" stroke-opacity="1.0" stroke-linecap="round" fill="none"/><path d="M85.6 376.4h0" stroke="#1c1c78" stroke-width="0.8" stroke-opacity="1.0" stroke-linecap="round" fill="none"/><path d="M69.2 384.7h0M73.4 385.7h0" stroke="#8a80d0" stroke-width="1.1" stroke-opacity="0.5" stroke-linecap="round" fill="none"/><path d="M73.3 385.3h0M75.1 383.7h0" stroke="#1c1c78" stroke-width="0.7" stroke-opacity="0.75" stroke-linecap="round" fill="none"/><path d="M85.8 377.6h0M77.4 382.3h0M82.1 379.1h0M94.9 375.9h0M96.9 378.7h0" stroke="#2a2a90" stroke-width="1.2" stroke-opacity="0.5" stroke-linecap="round" fill="none"/><path d="M72.0 385.5h0M91.2 375.0h0" stroke="#2a2a90" stroke-width="1.0" stroke-opacity="1.0" stroke-linecap="round" fill="none"/><path d="M72.0 385.9h0" stroke="#6a5cb8" stroke-width="0.9" stroke-opacity="1.0" stroke-linecap="round" fill="none"/><path d="M83.7 375.2h0" stroke="#6a5cb8" stroke-width="1.1" stroke-opacity="0.5" stroke-linecap="round" fill="none"/><path d="M78.7 381.8h0" stroke="#1c1c78" stroke-width="0.9" stroke-opacity="1.0" stroke-linecap="round" fill="none"/><path d="M68.7 384.6h0M91.2 378.1h0M71.2 382.5h0M92.6 375.5h0M83.8 378.9h0" stroke="#1c1c78" stroke-width="0.8" stroke-opacity="0.75" stroke-linecap="round" fill="none"/><path d="M73.1 381.9h0M84.8 376.0h0M94.9 374.5h0" stroke="#4a40a8" stroke-width="1.1" stroke-opacity="0.75" stroke-linecap="round" fill="none"/><path d="M97.6 376.6h0M97.4 375.1h0" stroke="#2a2a90" stroke-width="0.8" stroke-opacity="0.75" stroke-linecap="round" fill="none"/><path d="M95.8 376.7h0M74.6 381.3h0M92.2 376.3h0" stroke="#4a40a8" stroke-width="0.8" stroke-opacity="0.5" stroke-linecap="round" fill="none"/><path d="M81.9 379.8h0" stroke="#8a80d0" stroke-width="0.7" stroke-opacity="1.0" stroke-linecap="round" fill="none"/><path d="M84.1 375.8h0" stroke="#2a2a90" stroke-width="0.7" stroke-opacity="1.0" stroke-linecap="round" fill="none"/><path d="M85.1 378.7h0M75.3 382.0h0" stroke="#6a5cb8" stroke-width="0.7" stroke-opacity="0.5" stroke-linecap="round" fill="none"/><path d="M85.3 378.6h0" stroke="#8a80d0" stroke-width="0.9" stroke-opacity="0.5" stroke-linecap="round" fill="none"/><path d="M78.5 381.3h0M96.1 375.3h0M76.4 380.6h0" stroke="#2a2a90" stroke-width="1.2" stroke-opacity="0.75" stroke-linecap="round" fill="none"/><path d="M87.3 374.9h0" stroke="#1c1c78" stroke-width="1.1" stroke-opacity="1.0" stroke-linecap="round" fill="none"/><path d="M96.2 374.8h0" stroke="#8a80d0" stroke-width="1.1" stroke-opacity="0.75" stroke-linecap="round" fill="none"/><path d="M93.8 378.8h0M94.5 377.6h0" stroke="#4a40a8" stroke-width="0.7" stroke-opacity="0.75" stroke-linecap="round" fill="none"/><path d="M78.6 379.9h0M72.6 382.7h0" stroke="#4a40a8" stroke-width="0.8" stroke-opacity="1.0" stroke-linecap="round" fill="none"/><path d="M72.8 384.7h0M73.4 381.7h0" stroke="#1c1c78" stroke-width="1.1" stroke-opacity="0.5" stroke-linecap="round" fill="none"/><path d="M82.4 376.2h0M97.7 377.6h0M79.4 379.9h0" stroke="#2a2a90" stroke-width="1.0" stroke-opacity="0.5" stroke-linecap="round" fill="none"/><path d="M78.1 378.6h0M71.7 385.3h0" stroke="#4a40a8" stroke-width="1.0" stroke-opacity="1.0" stroke-linecap="round" fill="none"/><path d="M91.2 375.9h0" stroke="#6a5cb8" stroke-width="0.7" stroke-opacity="0.75" stroke-linecap="round" fill="none"/><path d="M74.0 381.9h0" stroke="#2a2a90" stroke-width="0.7" stroke-opacity="0.75" stroke-linecap="round" fill="none"/><path d="M74.8 383.7h0" stroke="#6a5cb8" stroke-width="0.9" stroke-opacity="0.75" stroke-linecap="round" fill="none"/><path d="M75.2 382.6h0" stroke="#4a40a8" stroke-width="0.7" stroke-opacity="0.5" stroke-linecap="round" fill="none"/><path d="M76.8 379.7h0" stroke="#2a2a90" stroke-width="1.2" stroke-opacity="1.0" stroke-linecap="round" fill="none"/><g filter="url(#fb)"><path d="M60.5 392.5 C63 389.5 68 387.5 73 385 C78 381.5 83 378 88 377 C91 376.5 94 376.8 95 378.3 C95.6 382 95.4 388 94 391.5 C88 393.4 80 394 72 394.2 C66 394.3 62 393.8 60.5 392.5 Z" fill="#1e1e7c"/><path d="M77 386.2 C81 384.4 86.5 383.3 91.6 383.4 C93.2 385.6 93.2 389 91.8 391.2 C87 392.2 81.5 392.4 77.5 392.3 Z" fill="#1a9ad0"/><path d="M62.6 392.3 C65 389.6 70 387.4 75 386.2 C78 385.6 80 386.5 80.2 388.8 C80.2 391 78.5 392.4 75 392.9 C70 393.4 65.5 393.3 62.6 392.3 Z" fill="#1890c8"/><ellipse cx="72" cy="390.6" rx="8" ry="2.8" fill="#30b060" transform="rotate(-10 72 390.6)"/><ellipse cx="71" cy="391" rx="4.4" ry="1.9" fill="#c0d828" transform="rotate(-8 71 391)"/><ellipse cx="70.8" cy="391.2" rx="2.6" ry="1.2" fill="#e88818"/><ellipse cx="70.8" cy="391.2" rx="1.4" ry="0.8" fill="#e04818"/></g></g><g clip-path="url(#cpD2)"><path d="M156.0 380.5h0M153.8 386.2h0M156.7 380.1h0M154.0 381.8h0M157.5 379.3h0M174.3 377.2h0M175.7 376.4h0M151.4 380.1h0" stroke="#3a1a90" stroke-width="0.7" stroke-opacity="0.5" stroke-linecap="round" fill="none"/><path d="M170.3 379.4h0" stroke="#c0b0e8" stroke-width="0.8" stroke-opacity="0.25" stroke-linecap="round" fill="none"/><path d="M170.4 371.2h0M162.5 381.1h0M174.6 375.1h0M153.8 380.3h0" stroke="#c0b0e8" stroke-width="0.7" stroke-opacity="0.75" stroke-linecap="round" fill="none"/><path d="M158.9 383.5h0M154.0 386.7h0M154.9 386.2h0M174.8 376.0h0" stroke="#7a50c0" stroke-width="0.8" stroke-opacity="0.75" stroke-linecap="round" fill="none"/><path d="M162.1 382.5h0" stroke="#5a2aa0" stroke-width="0.9" stroke-opacity="0.5" stroke-linecap="round" fill="none"/><path d="M154.2 387.0h0M150.2 388.3h0M162.3 380.9h0M151.6 382.1h0M169.2 374.5h0M160.7 380.6h0" stroke="#5a2aa0" stroke-width="0.9" stroke-opacity="0.75" stroke-linecap="round" fill="none"/><path d="M168.9 376.4h0M162.7 377.0h0M175.9 374.5h0M148.2 389.1h0M163.0 379.3h0" stroke="#2a2a9a" stroke-width="0.9" stroke-opacity="0.75" stroke-linecap="round" fill="none"/><path d="M169.4 380.2h0" stroke="#c0b0e8" stroke-width="0.6" stroke-opacity="0.25" stroke-linecap="round" fill="none"/><path d="M163.0 380.0h0M170.9 372.4h0M157.8 377.7h0" stroke="#7a50c0" stroke-width="1.1" stroke-opacity="0.75" stroke-linecap="round" fill="none"/><path d="M150.9 385.6h0M151.7 379.6h0M173.8 375.2h0M147.3 388.2h0M165.9 379.1h0M151.4 383.9h0M167.8 376.2h0" stroke="#a080d8" stroke-width="0.8" stroke-opacity="0.5" stroke-linecap="round" fill="none"/><path d="M151.4 384.3h0M157.3 381.9h0M158.6 380.4h0M151.6 382.7h0M166.0 380.3h0M160.0 384.4h0" stroke="#3a1a90" stroke-width="1.0" stroke-opacity="0.75" stroke-linecap="round" fill="none"/><path d="M159.8 382.6h0" stroke="#2a2a9a" stroke-width="0.8" stroke-opacity="0.25" stroke-linecap="round" fill="none"/><path d="M163.8 381.3h0M167.5 377.1h0M164.5 380.3h0M169.6 377.0h0M173.9 377.6h0M153.3 382.2h0" stroke="#3a1a90" stroke-width="0.9" stroke-opacity="0.5" stroke-linecap="round" fill="none"/><path d="M167.3 372.8h0M164.4 375.4h0M149.4 381.1h0M151.7 383.6h0M146.6 384.5h0M175.2 369.2h0" stroke="#5a2aa0" stroke-width="0.8" stroke-opacity="0.5" stroke-linecap="round" fill="none"/><path d="M156.1 377.8h0M148.9 388.6h0M158.6 384.5h0M165.5 376.9h0M160.8 379.9h0" stroke="#c0b0e8" stroke-width="0.7" stroke-opacity="0.5" stroke-linecap="round" fill="none"/><path d="M149.3 384.0h0M151.8 379.6h0M170.8 378.8h0M152.8 379.9h0M161.3 380.8h0" stroke="#2a2a9a" stroke-width="0.7" stroke-opacity="0.5" stroke-linecap="round" fill="none"/><path d="M154.1 378.5h0M169.0 378.9h0M152.8 386.4h0M165.7 374.4h0" stroke="#5a2aa0" stroke-width="0.8" stroke-opacity="0.75" stroke-linecap="round" fill="none"/><path d="M165.5 373.4h0M173.3 377.3h0M149.0 381.9h0M171.7 376.6h0" stroke="#5a2aa0" stroke-width="0.7" stroke-opacity="0.75" stroke-linecap="round" fill="none"/><path d="M172.6 371.9h0M163.7 380.5h0" stroke="#3a1a90" stroke-width="1.0" stroke-opacity="0.5" stroke-linecap="round" fill="none"/><path d="M155.4 382.4h0M155.3 378.3h0M152.7 387.2h0M171.5 372.9h0M152.1 387.3h0" stroke="#a080d8" stroke-width="0.7" stroke-opacity="0.75" stroke-linecap="round" fill="none"/><path d="M156.6 383.5h0M170.0 371.8h0M165.0 374.3h0" stroke="#a080d8" stroke-width="1.1" stroke-opacity="0.5" stroke-linecap="round" fill="none"/><path d="M157.9 384.3h0" stroke="#3a1a90" stroke-width="1.1" stroke-opacity="0.75" stroke-linecap="round" fill="none"/><path d="M173.5 374.5h0M169.8 373.0h0M147.6 384.0h0" stroke="#5a2aa0" stroke-width="0.6" stroke-opacity="0.5" stroke-linecap="round" fill="none"/><path d="M152.2 383.7h0M167.8 375.0h0M166.7 378.2h0M158.4 378.7h0" stroke="#2a2a9a" stroke-width="0.6" stroke-opacity="0.5" stroke-linecap="round" fill="none"/><path d="M168.0 375.7h0M146.5 389.5h0M170.9 373.8h0" stroke="#3a1a90" stroke-width="0.8" stroke-opacity="0.5" stroke-linecap="round" fill="none"/><path d="M159.9 381.4h0M151.0 385.2h0M175.1 374.5h0" stroke="#c0b0e8" stroke-width="0.6" stroke-opacity="0.75" stroke-linecap="round" fill="none"/><path d="M151.6 382.7h0M172.5 378.9h0M153.5 385.0h0M170.4 373.2h0" stroke="#a080d8" stroke-width="0.6" stroke-opacity="0.75" stroke-linecap="round" fill="none"/><path d="M155.7 383.5h0M152.5 382.5h0M161.9 383.5h0M161.5 377.6h0" stroke="#5a2aa0" stroke-width="1.0" stroke-opacity="0.75" stroke-linecap="round" fill="none"/><path d="M168.1 379.5h0" stroke="#2a2a9a" stroke-width="0.9" stroke-opacity="0.25" stroke-linecap="round" fill="none"/><path d="M157.2 380.3h0M148.7 381.2h0M166.3 381.2h0M146.7 384.6h0M160.2 377.7h0M160.4 375.8h0" stroke="#7a50c0" stroke-width="0.8" stroke-opacity="0.5" stroke-linecap="round" fill="none"/><path d="M172.4 377.1h0M174.7 376.9h0M168.6 376.4h0" stroke="#2a2a9a" stroke-width="1.1" stroke-opacity="0.5" stroke-linecap="round" fill="none"/><path d="M161.3 380.1h0M174.9 371.8h0M150.2 386.4h0M174.9 370.1h0M160.9 379.9h0" stroke="#a080d8" stroke-width="0.8" stroke-opacity="0.75" stroke-linecap="round" fill="none"/><path d="M148.5 383.4h0M163.4 376.0h0M152.7 385.7h0" stroke="#7a50c0" stroke-width="1.0" stroke-opacity="0.75" stroke-linecap="round" fill="none"/><path d="M172.9 370.3h0M148.0 381.4h0M155.6 384.3h0M161.3 381.8h0M151.8 382.6h0M174.9 369.7h0" stroke="#a080d8" stroke-width="0.7" stroke-opacity="0.5" stroke-linecap="round" fill="none"/><path d="M175.5 371.1h0M170.8 377.6h0M166.5 377.9h0" stroke="#c0b0e8" stroke-width="0.9" stroke-opacity="0.75" stroke-linecap="round" fill="none"/><path d="M146.6 383.4h0M175.2 373.9h0M167.1 376.4h0" stroke="#7a50c0" stroke-width="1.0" stroke-opacity="0.5" stroke-linecap="round" fill="none"/><path d="M151.1 386.4h0" stroke="#7a50c0" stroke-width="0.6" stroke-opacity="0.25" stroke-linecap="round" fill="none"/><path d="M157.1 381.7h0M167.6 372.7h0M161.1 381.3h0M155.0 385.5h0M166.2 375.9h0M154.8 382.2h0" stroke="#c0b0e8" stroke-width="1.0" stroke-opacity="0.75" stroke-linecap="round" fill="none"/><path d="M153.9 385.4h0M175.2 372.8h0" stroke="#2a2a9a" stroke-width="0.6" stroke-opacity="0.75" stroke-linecap="round" fill="none"/><path d="M172.5 370.6h0M166.3 380.5h0M158.0 377.4h0" stroke="#7a50c0" stroke-width="0.7" stroke-opacity="0.5" stroke-linecap="round" fill="none"/><path d="M148.8 381.0h0M158.5 381.2h0M148.7 384.5h0M160.6 383.3h0M146.8 389.3h0" stroke="#5a2aa0" stroke-width="1.0" stroke-opacity="0.5" stroke-linecap="round" fill="none"/><path d="M147.8 384.2h0M159.1 379.9h0" stroke="#3a1a90" stroke-width="0.6" stroke-opacity="0.75" stroke-linecap="round" fill="none"/><path d="M166.0 376.0h0M164.3 379.7h0M155.3 380.8h0M171.8 371.5h0" stroke="#2a2a9a" stroke-width="1.0" stroke-opacity="0.75" stroke-linecap="round" fill="none"/><path d="M166.0 374.8h0M164.1 376.7h0" stroke="#2a2a9a" stroke-width="1.0" stroke-opacity="0.5" stroke-linecap="round" fill="none"/><path d="M164.0 374.3h0M157.2 382.4h0M168.1 372.2h0" stroke="#7a50c0" stroke-width="0.9" stroke-opacity="0.75" stroke-linecap="round" fill="none"/><path d="M151.1 387.5h0M150.0 384.1h0M163.9 378.0h0" stroke="#5a2aa0" stroke-width="1.1" stroke-opacity="0.5" stroke-linecap="round" fill="none"/><path d="M172.9 372.1h0M173.3 370.2h0M174.0 373.1h0M168.6 377.9h0" stroke="#c0b0e8" stroke-width="0.8" stroke-opacity="0.75" stroke-linecap="round" fill="none"/><path d="M154.2 383.3h0" stroke="#c0b0e8" stroke-width="0.9" stroke-opacity="0.5" stroke-linecap="round" fill="none"/><path d="M165.2 377.1h0M164.6 377.6h0" stroke="#a080d8" stroke-width="0.9" stroke-opacity="1.0" stroke-linecap="round" fill="none"/><path d="M154.5 382.7h0M169.6 377.1h0M164.1 380.9h0M162.7 377.0h0" stroke="#2a2a9a" stroke-width="0.8" stroke-opacity="0.5" stroke-linecap="round" fill="none"/><path d="M156.9 385.6h0M164.8 376.8h0M151.3 387.2h0" stroke="#5a2aa0" stroke-width="0.7" stroke-opacity="0.5" stroke-linecap="round" fill="none"/><path d="M154.6 384.6h0M150.9 387.0h0" stroke="#3a1a90" stroke-width="0.9" stroke-opacity="0.75" stroke-linecap="round" fill="none"/><path d="M147.9 389.7h0" stroke="#7a50c0" stroke-width="1.1" stroke-opacity="0.25" stroke-linecap="round" fill="none"/><path d="M146.2 387.5h0" stroke="#7a50c0" stroke-width="0.8" stroke-opacity="0.25" stroke-linecap="round" fill="none"/><path d="M148.9 384.0h0" stroke="#2a2a9a" stroke-width="1.1" stroke-opacity="0.25" stroke-linecap="round" fill="none"/><path d="M166.3 374.5h0" stroke="#a080d8" stroke-width="1.0" stroke-opacity="0.5" stroke-linecap="round" fill="none"/><path d="M155.9 383.4h0M165.6 379.1h0M157.2 377.7h0" stroke="#a080d8" stroke-width="1.0" stroke-opacity="0.25" stroke-linecap="round" fill="none"/><path d="M172.9 370.8h0M167.5 374.0h0" stroke="#c0b0e8" stroke-width="0.8" stroke-opacity="0.5" stroke-linecap="round" fill="none"/><path d="M169.9 372.2h0M147.1 387.5h0M148.3 386.2h0M161.2 381.9h0M162.4 382.6h0" stroke="#2a2a9a" stroke-width="0.7" stroke-opacity="0.75" stroke-linecap="round" fill="none"/><path d="M156.1 384.1h0M175.4 369.8h0M150.5 383.3h0M159.6 381.9h0M164.6 375.1h0M166.4 381.2h0" stroke="#a080d8" stroke-width="0.9" stroke-opacity="0.5" stroke-linecap="round" fill="none"/><path d="M153.8 383.4h0M152.8 383.1h0M160.5 381.1h0M161.1 375.6h0" stroke="#a080d8" stroke-width="0.9" stroke-opacity="0.75" stroke-linecap="round" fill="none"/><path d="M170.3 374.6h0M148.1 384.9h0M153.4 387.5h0" stroke="#a080d8" stroke-width="1.0" stroke-opacity="0.75" stroke-linecap="round" fill="none"/><path d="M164.4 378.6h0M149.1 385.1h0" stroke="#3a1a90" stroke-width="0.7" stroke-opacity="0.75" stroke-linecap="round" fill="none"/><path d="M171.8 374.1h0" stroke="#2a2a9a" stroke-width="0.7" stroke-opacity="0.25" stroke-linecap="round" fill="none"/><path d="M162.0 376.4h0" stroke="#5a2aa0" stroke-width="0.9" stroke-opacity="0.25" stroke-linecap="round" fill="none"/><path d="M153.7 387.3h0" stroke="#2a2a9a" stroke-width="0.6" stroke-opacity="0.25" stroke-linecap="round" fill="none"/><path d="M171.6 371.7h0" stroke="#2a2a9a" stroke-width="1.0" stroke-opacity="0.25" stroke-linecap="round" fill="none"/><path d="M164.3 377.9h0" stroke="#5a2aa0" stroke-width="1.0" stroke-opacity="0.25" stroke-linecap="round" fill="none"/><path d="M147.1 386.3h0" stroke="#5a2aa0" stroke-width="0.8" stroke-opacity="1.0" stroke-linecap="round" fill="none"/><path d="M162.2 381.0h0" stroke="#a080d8" stroke-width="1.1" stroke-opacity="0.75" stroke-linecap="round" fill="none"/><path d="M158.5 382.4h0M170.2 374.9h0M173.4 371.4h0" stroke="#3a1a90" stroke-width="1.1" stroke-opacity="0.5" stroke-linecap="round" fill="none"/><path d="M153.3 383.1h0" stroke="#a080d8" stroke-width="0.7" stroke-opacity="1.0" stroke-linecap="round" fill="none"/><path d="M154.8 384.2h0M172.1 376.9h0M173.8 369.8h0" stroke="#7a50c0" stroke-width="0.7" stroke-opacity="0.75" stroke-linecap="round" fill="none"/><path d="M163.1 374.6h0" stroke="#2a2a9a" stroke-width="0.8" stroke-opacity="0.75" stroke-linecap="round" fill="none"/><path d="M167.7 375.0h0M150.8 384.2h0" stroke="#3a1a90" stroke-width="0.8" stroke-opacity="0.75" stroke-linecap="round" fill="none"/><path d="M173.6 374.4h0M169.7 374.2h0M173.8 374.8h0M150.7 385.5h0" stroke="#7a50c0" stroke-width="0.9" stroke-opacity="0.5" stroke-linecap="round" fill="none"/><path d="M158.5 384.0h0M167.5 377.0h0M148.8 380.9h0" stroke="#7a50c0" stroke-width="1.1" stroke-opacity="0.5" stroke-linecap="round" fill="none"/><path d="M163.4 381.0h0" stroke="#7a50c0" stroke-width="1.0" stroke-opacity="0.25" stroke-linecap="round" fill="none"/><path d="M148.7 384.5h0" stroke="#a080d8" stroke-width="0.6" stroke-opacity="0.5" stroke-linecap="round" fill="none"/><path d="M161.0 379.9h0" stroke="#c0b0e8" stroke-width="1.0" stroke-opacity="0.25" stroke-linecap="round" fill="none"/><path d="M154.2 385.0h0M156.0 380.8h0" stroke="#c0b0e8" stroke-width="0.6" stroke-opacity="0.5" stroke-linecap="round" fill="none"/><path d="M156.7 379.8h0" stroke="#7a50c0" stroke-width="0.9" stroke-opacity="0.25" stroke-linecap="round" fill="none"/><path d="M146.2 389.0h0" stroke="#3a1a90" stroke-width="0.8" stroke-opacity="0.25" stroke-linecap="round" fill="none"/><path d="M155.1 386.8h0" stroke="#3a1a90" stroke-width="0.9" stroke-opacity="0.25" stroke-linecap="round" fill="none"/><path d="M152.1 386.2h0" stroke="#c0b0e8" stroke-width="1.1" stroke-opacity="0.75" stroke-linecap="round" fill="none"/><path d="M171.2 371.5h0M156.7 380.3h0M154.3 386.7h0" stroke="#3a1a90" stroke-width="0.6" stroke-opacity="0.5" stroke-linecap="round" fill="none"/><path d="M154.6 381.8h0M169.3 371.9h0" stroke="#2a2a9a" stroke-width="0.9" stroke-opacity="0.5" stroke-linecap="round" fill="none"/><path d="M173.2 372.2h0" stroke="#5a2aa0" stroke-width="0.7" stroke-opacity="0.25" stroke-linecap="round" fill="none"/><path d="M147.6 389.4h0" stroke="#7a50c0" stroke-width="0.7" stroke-opacity="1.0" stroke-linecap="round" fill="none"/><path d="M149.5 386.8h0" stroke="#7a50c0" stroke-width="0.7" stroke-opacity="0.25" stroke-linecap="round" fill="none"/><path d="M174.0 376.6h0M168.7 378.2h0" stroke="#7a50c0" stroke-width="0.6" stroke-opacity="0.5" stroke-linecap="round" fill="none"/><path d="M169.7 376.3h0" stroke="#2a2a9a" stroke-width="0.7" stroke-opacity="1.0" stroke-linecap="round" fill="none"/><path d="M166.0 375.7h0" stroke="#2a2a9a" stroke-width="0.6" stroke-opacity="1.0" stroke-linecap="round" fill="none"/><g filter="url(#fb)"><path d="M149 390.5 C152 386 156 381.5 161 378.5 C165 376.5 169 376 172 377.5 L170 385 C165 388 158 390 151 391.8 Z" fill="#3a2a9a" opacity="0.6"/><path d="M142.8 392.6 C146 390.2 152 388.4 158 386.6 C164 384.6 168.5 381 171.5 378 C173.8 378.5 174 381.5 172.5 384 C168 388.5 161 390.6 155 392.2 C150 393.6 145 394 142.8 392.6 Z" fill="#1c1c80"/><path d="M146 392.2 C151 390 156.5 388.6 161.5 386.8 C165.5 385.2 168.8 382.6 171.2 380 C172.2 382.5 170.5 385.5 167.5 387.6 C163 390 158 391.2 152.5 392.4 C149.5 393 147.5 393 146 392.2 Z" fill="#1aa0cc"/><ellipse cx="153.3" cy="391.3" rx="3.8" ry="1.5" fill="#30b070" transform="rotate(-10 153.3 391.3)"/><ellipse cx="153.5" cy="391.3" rx="2.2" ry="1" fill="#b8d828" transform="rotate(-10 153.5 391.3)"/></g></g>
<rect x="52.5" y="343.3" width="65.7" height="66.9" fill="none" stroke="#aaa" stroke-width="0.8"/>
<rect x="134" y="343.3" width="65.9" height="66.9" fill="none" stroke="#aaa" stroke-width="0.8"/>
<rect x="51.80" y="392.60" width="1.40" height="3.20" fill="#111"/>
<rect x="65.50" y="409.40" width="4.50" height="1.70" fill="#111"/>
<rect x="133.30" y="392.00" width="1.40" height="3.20" fill="#111"/>
<rect x="146.50" y="409.40" width="4.50" height="1.70" fill="#111"/>
<text x="117" y="351.7" font-size="6.6" text-anchor="end" fill="#333" font-weight="normal" textLength="14" lengthAdjust="spacingAndGlyphs">4.6%</text>
<text x="196" y="351.7" font-size="6.6" text-anchor="end" fill="#333" font-weight="normal" textLength="12.2" lengthAdjust="spacingAndGlyphs">25%</text>
<text x="28.8" y="378" font-size="8.4" text-anchor="middle" fill="#333" transform="rotate(-90 28.8 378)" dy="2.8" textLength="51.5" lengthAdjust="spacingAndGlyphs">From CD4<tspan dy="-3.2" font-size="5.4">+</tspan><tspan dy="3.2"> cells</tspan></text>
<line x1="46.2" y1="416.8" x2="46.2" y2="398" stroke="#111" stroke-width="0.9"/>
<path d="M46.2 395.2 L44.4 399 L48 399 Z" fill="#111"/>
<line x1="45.8" y1="416.4" x2="65" y2="416.4" stroke="#111" stroke-width="0.9"/>
<path d="M67.8 416.4 L64 414.6 L64 418.2 Z" fill="#111"/>
<text x="39" y="407.3" font-size="7" text-anchor="middle" fill="#333" transform="rotate(-90 39 407.3)" dy="2.5">CD25</text>
<text x="56.2" y="424.3" font-size="7" text-anchor="middle" fill="#333" font-weight="normal">Foxp3</text>
<rect x="253.75" y="405.92" width="15.00" height="10.33" fill="#c9c9cd"/>
<rect x="276.60" y="387.77" width="14.00" height="28.48" fill="#c8102e"/>
<line x1="261.25" y1="405.921" x2="261.25" y2="395.905" stroke="#222" stroke-width="0.9"/>
<line x1="258.65" y1="395.905" x2="263.85" y2="395.905" stroke="#222" stroke-width="0.9"/>
<line x1="283.6" y1="387.767" x2="283.6" y2="364.605" stroke="#222" stroke-width="0.9"/>
<line x1="281.0" y1="364.605" x2="286.20000000000005" y2="364.605" stroke="#222" stroke-width="0.9"/>
<circle cx="259.10" cy="395.90" r="1.9" fill="#111"/>
<circle cx="263.70" cy="395.40" r="1.9" fill="#111"/>
<circle cx="261.80" cy="403.50" r="1.9" fill="#111"/>
<circle cx="256.70" cy="410.70" r="1.9" fill="#111"/>
<circle cx="266.40" cy="412.30" r="1.9" fill="#111"/>
<circle cx="261.50" cy="414.20" r="1.9" fill="#111"/>
<circle cx="281.40" cy="355.60" r="1.9" fill="#111"/>
<circle cx="286.40" cy="352.80" r="1.9" fill="#111"/>
<circle cx="283.90" cy="363.60" r="1.9" fill="#111"/>
<circle cx="283.90" cy="370.80" r="1.9" fill="#111"/>
<circle cx="283.80" cy="389.90" r="1.9" fill="#111"/>
<circle cx="279.50" cy="398.30" r="1.9" fill="#111"/>
<circle cx="281.50" cy="399.70" r="1.9" fill="#111"/>
<circle cx="286.50" cy="396.70" r="1.9" fill="#111"/>
<circle cx="286.50" cy="403.10" r="1.9" fill="#111"/>
<circle cx="281.10" cy="416.00" r="1.9" fill="#111"/>
<circle cx="285.40" cy="416.00" r="1.9" fill="#111"/>
<line x1="246.6" y1="335" x2="246.6" y2="416.85" stroke="#1e1e1e" stroke-width="1.25"/>
<line x1="245.1" y1="416.25" x2="299" y2="416.25" stroke="#1e1e1e" stroke-width="1.25"/>
<line x1="243.6" y1="416.25" x2="246.6" y2="416.25" stroke="#1e1e1e" stroke-width="0.9"/>
<text x="240.4" y="418.75" font-size="6.9" text-anchor="end" fill="#333" font-weight="normal" textLength="3.3" lengthAdjust="spacingAndGlyphs">0</text>
<line x1="243.6" y1="400.6" x2="246.6" y2="400.6" stroke="#1e1e1e" stroke-width="0.9"/>
<text x="240.4" y="403.1" font-size="6.9" text-anchor="end" fill="#333" font-weight="normal" textLength="6.6" lengthAdjust="spacingAndGlyphs">20</text>
<line x1="243.6" y1="384.95" x2="246.6" y2="384.95" stroke="#1e1e1e" stroke-width="0.9"/>
<text x="240.4" y="387.45" font-size="6.9" text-anchor="end" fill="#333" font-weight="normal" textLength="6.6" lengthAdjust="spacingAndGlyphs">40</text>
<line x1="243.6" y1="369.3" x2="246.6" y2="369.3" stroke="#1e1e1e" stroke-width="0.9"/>
<text x="240.4" y="371.8" font-size="6.9" text-anchor="end" fill="#333" font-weight="normal" textLength="6.6" lengthAdjust="spacingAndGlyphs">60</text>
<line x1="243.6" y1="353.65" x2="246.6" y2="353.65" stroke="#1e1e1e" stroke-width="0.9"/>
<text x="240.4" y="356.15" font-size="6.9" text-anchor="end" fill="#333" font-weight="normal" textLength="6.6" lengthAdjust="spacingAndGlyphs">80</text>
<line x1="243.6" y1="338.0" x2="246.6" y2="338.0" stroke="#1e1e1e" stroke-width="0.9"/>
<text x="240.4" y="340.5" font-size="6.9" text-anchor="end" fill="#333" font-weight="normal" textLength="9.9" lengthAdjust="spacingAndGlyphs">100</text>
<line x1="261.25" y1="416.25" x2="261.25" y2="418.45" stroke="#1e1e1e" stroke-width="0.8"/>
<line x1="283.6" y1="416.25" x2="283.6" y2="418.45" stroke="#1e1e1e" stroke-width="0.8"/>
<text x="261.75" y="423.85" font-size="7.0" text-anchor="end" fill="#444" font-weight="normal" transform="rotate(-45 261.75 423.85)" style="stroke:none">Control</text>
<text x="284.1" y="423.85" font-size="7.0" text-anchor="end" fill="#444" font-weight="normal" transform="rotate(-45 284.1 423.85)" style="stroke:none">M88B2m</text>
<circle cx="283.80" cy="342.10" r="0.85" fill="#3a3a3a"/>
<text x="221.0" y="377.6" font-size="8.6" text-anchor="middle" fill="#2a2a2a" textLength="68.5" lengthAdjust="spacingAndGlyphs" transform="rotate(-90 221.0 377.6)" dy="3">Regulatory T cells (%)</text>
<text x="410" y="309" font-size="8.3" text-anchor="middle" fill="#222" font-weight="normal" textLength="106" lengthAdjust="spacingAndGlyphs" style="stroke-width:0.08px">From CD4<tspan dy="-2.6" font-size="5.6">+</tspan><tspan dy="2.6">CD25</tspan><tspan dy="-2.6" font-size="5.6">+</tspan><tspan dy="2.6">Foxp3</tspan><tspan dy="-2.6" font-size="5.6">+</tspan></text>
<text x="407" y="319.8" font-size="8.3" text-anchor="middle" fill="#222" font-weight="normal" textLength="69.5" lengthAdjust="spacingAndGlyphs" style="stroke-width:0.08px">Regulatory T cells</text>
<defs>
<pattern id="hb" patternUnits="userSpaceOnUse" width="3.6" height="3.6" patternTransform="rotate(45)"><rect width="3.6" height="3.6" fill="#fff"/><rect width="1" height="3.6" fill="#7d98c4"/></pattern>
<pattern id="hr" patternUnits="userSpaceOnUse" width="3.6" height="3.6" patternTransform="rotate(45)"><rect width="3.6" height="3.6" fill="#fff"/><rect width="1" height="3.6" fill="#e8909c"/></pattern>
<pattern id="hg" patternUnits="userSpaceOnUse" width="2.4" height="2.4"><rect width="2.4" height="2.4" fill="#fff"/><rect width="1.2" height="1.2" fill="#666"/><rect x="1.2" y="1.2" width="1.2" height="1.2" fill="#666"/></pattern>
</defs>
<rect x="385.30" y="396.50" width="12.00" height="19.40" fill="#c9c9cd"/>
<rect x="385.3" y="384.57" width="12" height="11.94" fill="#fff" stroke="#555" stroke-width="0.7"/>
<rect x="385.3" y="396.50" width="12" height="19.40" fill="none" stroke="#555" stroke-width="0.7"/>
<rect x="402.00" y="384.57" width="12.00" height="31.33" fill="#1f4e8c"/>
<rect x="402" y="368.90" width="12" height="15.67" fill="url(#hb)" stroke="#333" stroke-width="0.7"/>
<rect x="419.00" y="373.38" width="11.50" height="42.52" fill="#c8102e"/>
<rect x="419" y="340.55" width="11.5" height="32.82" fill="url(#hr)" stroke="#333" stroke-width="0.7"/>
<line x1="391.3" y1="384.568" x2="391.3" y2="376.735" stroke="#333" stroke-width="0.9"/>
<line x1="388.5" y1="376.735" x2="394.1" y2="376.735" stroke="#333" stroke-width="0.9"/>
<line x1="391.3" y1="396.50399999999996" x2="391.3" y2="392.774" stroke="#333" stroke-width="0.9"/>
<line x1="388.5" y1="392.774" x2="394.1" y2="392.774" stroke="#333" stroke-width="0.9"/>
<line x1="408" y1="368.902" x2="408" y2="361.442" stroke="#333" stroke-width="0.9"/>
<line x1="405.2" y1="361.442" x2="410.8" y2="361.442" stroke="#333" stroke-width="0.9"/>
<line x1="408" y1="384.568" x2="408" y2="380.83799999999997" stroke="#333" stroke-width="0.9"/>
<line x1="405.2" y1="380.83799999999997" x2="410.8" y2="380.83799999999997" stroke="#333" stroke-width="0.9"/>
<line x1="424.75" y1="340.55400000000003" x2="424.75" y2="334.586" stroke="#333" stroke-width="0.9"/>
<line x1="421.95" y1="334.586" x2="427.55" y2="334.586" stroke="#333" stroke-width="0.9"/>
<line x1="424.75" y1="373.378" x2="424.75" y2="359.204" stroke="#333" stroke-width="0.9"/>
<line x1="421.95" y1="359.204" x2="427.55" y2="359.204" stroke="#333" stroke-width="0.9"/>
<line x1="380.8" y1="333.3" x2="380.8" y2="416.3" stroke="#1e1e1e" stroke-width="1.1"/>
<line x1="380.3" y1="415.9" x2="433.2" y2="415.9" stroke="#1e1e1e" stroke-width="1.1"/>
<line x1="377.4" y1="415.9" x2="380.8" y2="415.9" stroke="#1e1e1e" stroke-width="0.9"/>
<text x="373.8" y="418.29999999999995" font-size="6.9" text-anchor="end" fill="#333" font-weight="normal" textLength="3.35" lengthAdjust="spacingAndGlyphs">0</text>
<line x1="377.4" y1="397.25" x2="380.8" y2="397.25" stroke="#1e1e1e" stroke-width="0.9"/>
<text x="373.8" y="399.65" font-size="6.9" text-anchor="end" fill="#333" font-weight="normal" textLength="13.4" lengthAdjust="spacingAndGlyphs">2500</text>
<line x1="377.4" y1="378.6" x2="380.8" y2="378.6" stroke="#1e1e1e" stroke-width="0.9"/>
<text x="373.8" y="381.0" font-size="6.9" text-anchor="end" fill="#333" font-weight="normal" textLength="13.4" lengthAdjust="spacingAndGlyphs">5000</text>
<line x1="377.4" y1="359.95" x2="380.8" y2="359.95" stroke="#1e1e1e" stroke-width="0.9"/>
<text x="373.8" y="362.34999999999997" font-size="6.9" text-anchor="end" fill="#333" font-weight="normal" textLength="13.4" lengthAdjust="spacingAndGlyphs">7500</text>
<line x1="377.4" y1="341.3" x2="380.8" y2="341.3" stroke="#1e1e1e" stroke-width="0.9"/>
<text x="373.8" y="343.7" font-size="6.9" text-anchor="end" fill="#333" font-weight="normal" textLength="16.75" lengthAdjust="spacingAndGlyphs">10000</text>
<text x="346.9" y="375.6" font-size="8.4" text-anchor="middle" fill="#333" transform="rotate(-90 346.9 375.6)" dy="3" textLength="76" lengthAdjust="spacingAndGlyphs">Regulatory T cell number</text>
<line x1="392" y1="330.6" x2="425.2" y2="330.6" stroke="#333" stroke-width="1"/>
<circle cx="407.80" cy="327.20" r="0.8" fill="#3a3a3a"/>
<line x1="391.3" y1="415.9" x2="391.3" y2="418" stroke="#1e1e1e" stroke-width="0.8"/>
<line x1="408" y1="415.9" x2="408" y2="418" stroke="#1e1e1e" stroke-width="0.8"/>
<line x1="424.75" y1="415.9" x2="424.75" y2="418" stroke="#1e1e1e" stroke-width="0.8"/>
<rect x="439.7" y="366.5" width="5.8" height="5.8" fill="url(#hg)" stroke="#444" stroke-width="0.8"/>
<text x="449" y="371.7" font-size="6.6" text-anchor="start" fill="#444" font-weight="normal" textLength="26.8" lengthAdjust="spacingAndGlyphs">Ki67<tspan dy="-2.2" font-size="4.6">+</tspan><tspan dy="2.2"> cells</tspan></text>
<rect x="439.7" y="379.4" width="5.8" height="5.8" fill="#fff" stroke="#555" stroke-width="0.8"/>
<text x="449" y="384.7" font-size="6.6" text-anchor="start" fill="#444" font-weight="normal" textLength="26.8" lengthAdjust="spacingAndGlyphs">Ki67<tspan dy="-2.2" font-size="4.6">-</tspan><tspan dy="2.2"> cells</tspan></text>
<text x="326.7" y="428.2" font-size="6.8" text-anchor="start" fill="#444" font-weight="normal" style="stroke:none">B-cell - Control</text>
<text x="326.7" y="438.5" font-size="6.8" text-anchor="start" fill="#444" font-weight="normal" style="stroke:none">B-cell - M88B2</text>
<text x="391.3" y="428.3" font-size="6.5" text-anchor="middle" fill="#333" font-weight="normal">–</text>
<text x="408" y="428.3" font-size="6.5" text-anchor="middle" fill="#333" font-weight="normal">+</text>
<text x="424.75" y="428.3" font-size="6.5" text-anchor="middle" fill="#333" font-weight="normal">–</text>
<text x="391.3" y="438.3" font-size="6.5" text-anchor="middle" fill="#333" font-weight="normal">–</text>
<text x="408" y="438.3" font-size="6.5" text-anchor="middle" fill="#333" font-weight="normal">–</text>
<text x="424.75" y="438.3" font-size="6.5" text-anchor="middle" fill="#333" font-weight="normal">+</text>
</svg></body></html>
